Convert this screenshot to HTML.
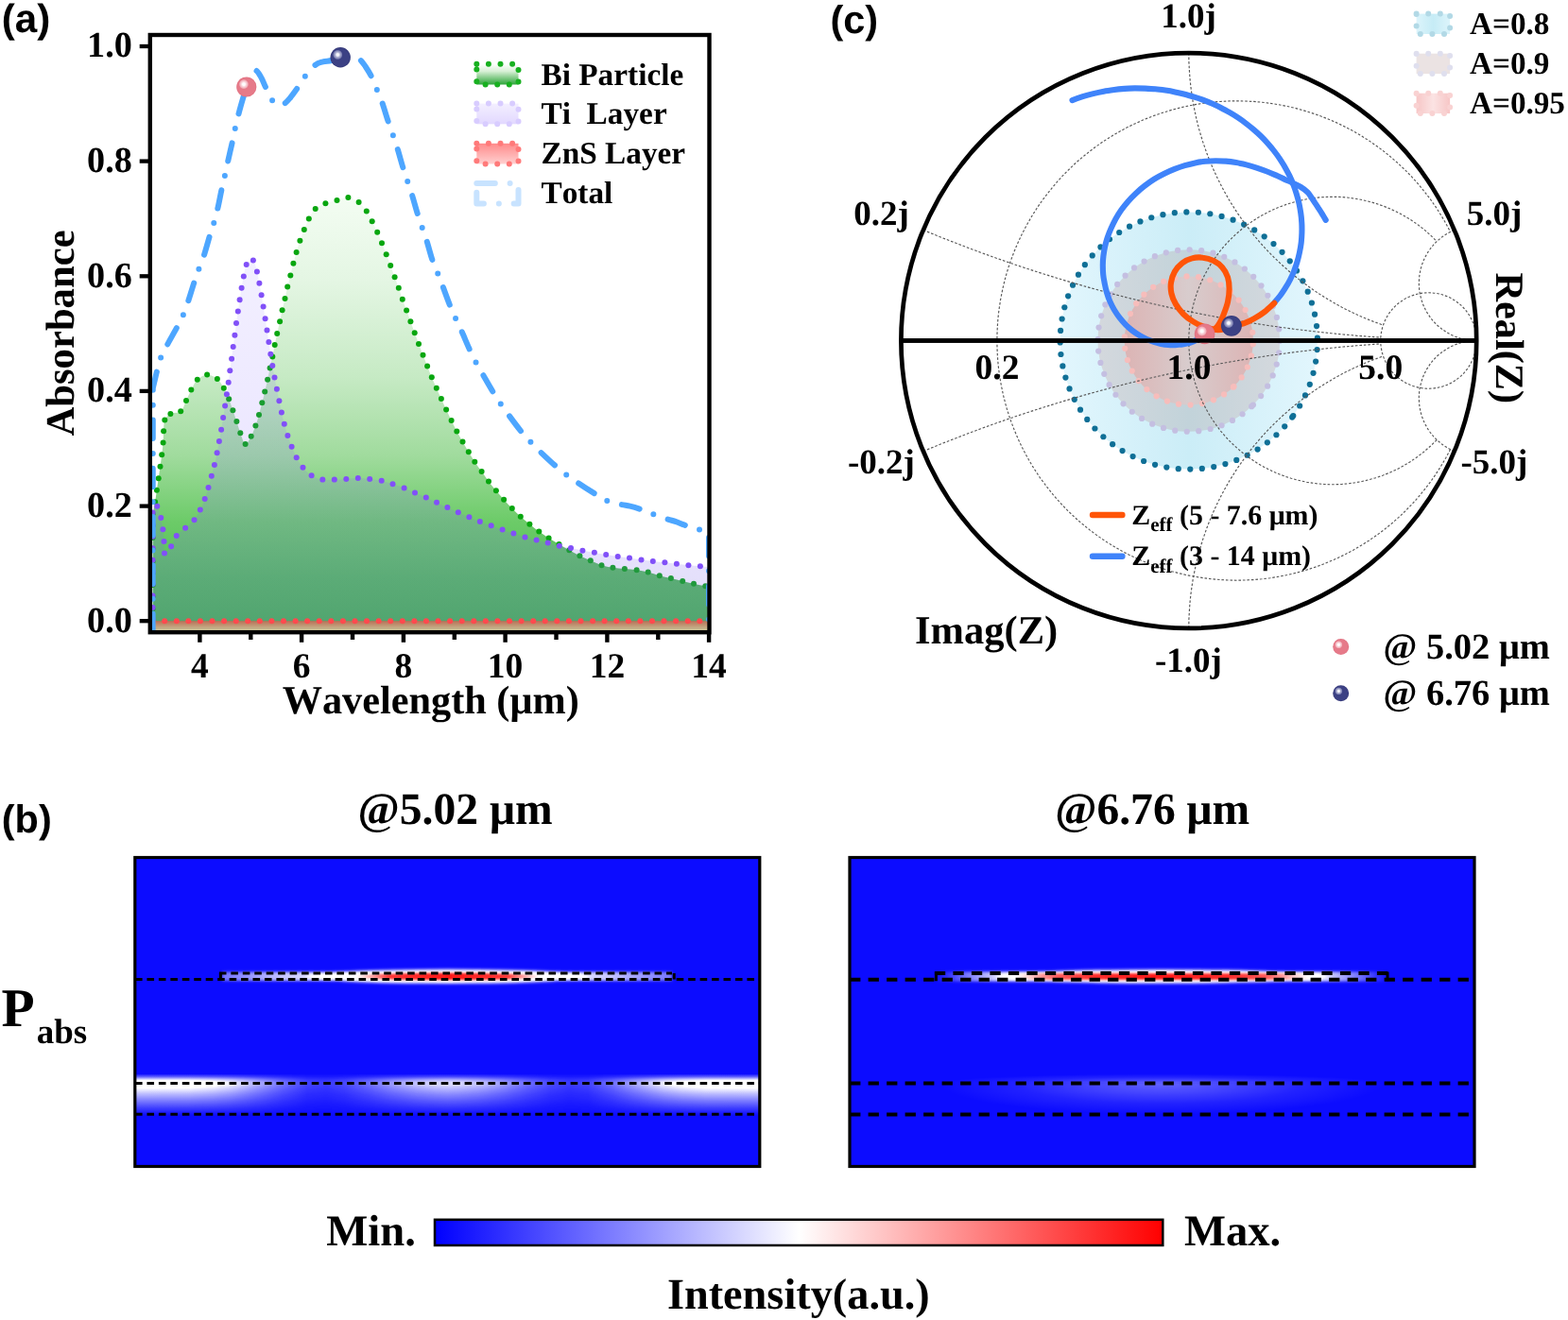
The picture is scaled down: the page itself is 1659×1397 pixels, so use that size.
<!DOCTYPE html>
<html lang="en"><head><meta charset="utf-8"><title>Figure</title>
<style>
html,body{margin:0;padding:0;background:#fff;}
body{width:1659px;height:1397px;overflow:hidden;}
svg{display:block;}
text{fill:#000;font-kerning:none;font-variant-ligatures:none;text-rendering:geometricPrecision;}
</style></head>
<body>
<svg width="1659" height="1397" viewBox="0 0 1659 1397">
<rect x="0" y="0" width="1659" height="1397" fill="#ffffff"/>
<defs>
<linearGradient id="gGreen" gradientUnits="userSpaceOnUse" x1="0" y1="205" x2="0" y2="668">
 <stop offset="0" stop-color="#f4fdf3"/>
 <stop offset="0.2" stop-color="#e4f6e3"/>
 <stop offset="0.42" stop-color="#c6eac4"/>
 <stop offset="0.6" stop-color="#a0db9d"/>
 <stop offset="0.75" stop-color="#6ccb68"/>
 <stop offset="0.88" stop-color="#52bd58"/>
 <stop offset="1" stop-color="#42b54c"/>
</linearGradient>
<linearGradient id="gPurple" gradientUnits="userSpaceOnUse" x1="0" y1="270" x2="0" y2="668">
 <stop offset="0" stop-color="#8264ff" stop-opacity="0.10"/>
 <stop offset="0.5" stop-color="#8264ff" stop-opacity="0.15"/>
 <stop offset="0.8" stop-color="#8068f0" stop-opacity="0.20"/>
 <stop offset="1" stop-color="#7c6ce0" stop-opacity="0.23"/>
</linearGradient>
<linearGradient id="gRed" gradientUnits="userSpaceOnUse" x1="0" y1="657" x2="0" y2="668">
 <stop offset="0" stop-color="#d2604e" stop-opacity="0.8"/>
 <stop offset="1" stop-color="#e8d2a8" stop-opacity="0.8"/>
</linearGradient>
<linearGradient id="lgGreen" x1="0" y1="0" x2="0" y2="1">
 <stop offset="0" stop-color="#ffffff"/><stop offset="0.35" stop-color="#d8f0d6"/><stop offset="1" stop-color="#2ea53a"/>
</linearGradient>
<linearGradient id="lgPurple" x1="0" y1="0" x2="0" y2="1">
 <stop offset="0" stop-color="#f3efff"/><stop offset="1" stop-color="#e2d8ff"/>
</linearGradient>
<linearGradient id="lgRed" x1="0" y1="0" x2="0" y2="1">
 <stop offset="0" stop-color="#ff8a8a"/><stop offset="1" stop-color="#ffd0d0"/>
</linearGradient>
<radialGradient id="hlP">
 <stop offset="0" stop-color="#ffffff" stop-opacity="1"/>
 <stop offset="0.28" stop-color="#ffffff" stop-opacity="0.96"/>
 <stop offset="0.5" stop-color="#fde6ea" stop-opacity="0.85"/>
 <stop offset="0.8" stop-color="#f6c6cd" stop-opacity="0.7"/>
 <stop offset="0.93" stop-color="#efa3ae" stop-opacity="0.45"/>
 <stop offset="1" stop-color="#e67a89" stop-opacity="0"/>
</radialGradient>
<radialGradient id="hlN">
 <stop offset="0" stop-color="#ffffff" stop-opacity="1"/>
 <stop offset="0.28" stop-color="#f4f4fa" stop-opacity="0.96"/>
 <stop offset="0.5" stop-color="#c2c4de" stop-opacity="0.85"/>
 <stop offset="0.8" stop-color="#9497c2" stop-opacity="0.75"/>
 <stop offset="0.93" stop-color="#6a6ea6" stop-opacity="0.5"/>
 <stop offset="1" stop-color="#3b4082" stop-opacity="0"/>
</radialGradient>
<radialGradient id="ballPink" cx="0.5" cy="0.5" r="0.5">
 <stop offset="0" stop-color="#e67a89"/><stop offset="0.85" stop-color="#e67a89"/><stop offset="1" stop-color="#e07080"/>
</radialGradient>
<radialGradient id="ballNavy" cx="0.5" cy="0.5" r="0.5">
 <stop offset="0" stop-color="#3c4184"/><stop offset="0.85" stop-color="#3c4184"/><stop offset="1" stop-color="#343878"/>
</radialGradient>
<linearGradient id="sm08" x1="0" y1="0" x2="1" y2="0">
 <stop offset="0" stop-color="#e2f6fd"/><stop offset="0.5" stop-color="#cbedf7"/><stop offset="1" stop-color="#e2f6fd"/>
</linearGradient>
<linearGradient id="sm09" x1="0" y1="0" x2="1" y2="0">
 <stop offset="0" stop-color="#d4d8dd"/><stop offset="0.5" stop-color="#c2d3da"/><stop offset="1" stop-color="#d4d8dd"/>
</linearGradient>
<linearGradient id="sm095" x1="0" y1="0" x2="1" y2="0">
 <stop offset="0" stop-color="#dcb4b4"/><stop offset="0.5" stop-color="#d8cccd"/><stop offset="1" stop-color="#dcb4b4"/>
</linearGradient>
<linearGradient id="ls08" x1="0" y1="0" x2="1" y2="0">
 <stop offset="0" stop-color="#dcf4fb"/><stop offset="0.5" stop-color="#c6ecf6"/><stop offset="1" stop-color="#dcf4fb"/>
</linearGradient>
<linearGradient id="ls095" x1="0" y1="0" x2="1" y2="0">
 <stop offset="0" stop-color="#f7c6c6"/><stop offset="0.5" stop-color="#fbe3e3"/><stop offset="1" stop-color="#f7c6c6"/>
</linearGradient>
<linearGradient id="cbar" x1="0" y1="0" x2="1" y2="0">
 <stop offset="0" stop-color="#0000ff"/><stop offset="0.5" stop-color="#ffffff"/><stop offset="1" stop-color="#ff0000"/>
</linearGradient>
<clipPath id="clipA"><rect x="159" y="37" width="591.5" height="632"/></clipPath>

</defs>
<g clip-path="url(#clipA)">
<path d="M161.6,669.0 L161.6,545.0 C162.0,542.7 163.4,535.7 164.1,531.3 C164.8,526.9 165.3,522.9 165.9,518.7 C166.5,514.5 167.1,510.4 167.7,506.2 C168.3,502.0 168.9,497.9 169.5,493.7 C170.1,489.5 170.7,485.4 171.2,481.2 C171.7,477.0 172.3,472.8 172.6,468.6 C172.9,464.5 172.8,460.3 173.1,456.3 C173.4,452.3 173.1,447.6 174.3,444.5 C175.5,441.4 177.6,439.4 180.4,437.9 C183.2,436.3 188.4,437.5 191.2,435.2 C194.0,432.9 195.2,427.8 197.0,424.0 C198.8,420.2 200.3,416.3 202.3,412.6 C204.3,408.9 206.0,404.5 208.8,401.8 C211.6,399.1 215.6,396.5 219.1,396.4 C222.6,396.2 226.9,398.5 229.9,400.9 C232.9,403.3 234.8,407.2 236.8,410.8 C238.9,414.4 240.6,418.3 242.2,422.2 C243.8,426.1 245.0,430.3 246.4,434.3 C247.8,438.3 249.1,442.1 250.4,446.1 C251.7,450.1 252.8,454.2 254.3,458.2 C255.8,462.2 257.7,469.4 259.6,470.0 C261.5,470.6 263.9,465.0 265.7,461.8 C267.5,458.6 269.0,454.4 270.4,450.6 C271.8,446.8 272.9,443.0 274.0,438.9 C275.1,434.8 276.3,430.3 277.3,426.2 C278.3,422.1 279.2,418.5 280.2,414.4 C281.2,410.3 282.2,405.9 283.1,401.8 C284.0,397.7 284.7,393.6 285.6,389.5 C286.5,385.4 287.5,381.5 288.3,377.4 C289.1,373.3 289.9,369.0 290.7,364.9 C291.5,360.8 292.3,357.1 293.2,353.0 C294.1,348.9 295.2,344.4 296.1,340.3 C297.0,336.2 297.7,332.3 298.6,328.2 C299.5,324.1 300.6,320.0 301.5,315.9 C302.4,311.8 303.2,307.7 304.2,303.6 C305.2,299.5 306.3,295.6 307.3,291.5 C308.3,287.4 309.3,282.9 310.4,278.8 C311.4,274.7 312.4,271.1 313.6,267.1 C314.8,263.1 316.0,258.8 317.4,254.8 C318.8,250.8 320.2,246.9 321.8,243.0 C323.4,239.1 324.8,235.1 326.8,231.4 C328.8,227.7 330.8,223.7 333.7,221.0 C336.6,218.3 340.6,216.7 344.4,215.2 C348.2,213.7 352.5,212.9 356.5,211.9 C360.5,210.9 364.5,208.7 368.4,209.0 C372.2,209.3 376.4,211.5 379.6,213.9 C382.8,216.3 385.5,220.1 387.8,223.5 C390.1,226.9 391.8,230.6 393.7,234.3 C395.6,238.0 397.5,241.9 399.2,245.7 C400.9,249.5 402.4,253.4 404.0,257.3 C405.6,261.2 407.2,265.2 408.7,269.2 C410.2,273.1 411.7,277.0 413.2,281.0 C414.7,285.0 416.2,289.4 417.6,293.3 C419.0,297.2 420.4,300.8 421.8,304.7 C423.2,308.6 424.4,312.8 425.8,316.8 C427.2,320.8 428.7,324.6 430.1,328.5 C431.5,332.4 433.0,336.3 434.4,340.3 C435.8,344.3 437.3,348.4 438.7,352.3 C440.1,356.2 441.5,360.1 443.0,364.0 C444.5,367.9 446.0,371.9 447.5,375.8 C449.0,379.7 450.6,383.6 452.1,387.5 C453.7,391.4 455.2,395.4 456.8,399.3 C458.4,403.2 460.1,406.9 461.8,410.7 C463.5,414.5 465.2,418.3 466.9,422.1 C468.6,425.9 470.3,429.8 472.1,433.6 C473.9,437.4 475.7,441.2 477.6,445.0 C479.5,448.8 481.3,452.9 483.3,456.6 C485.3,460.4 487.4,463.9 489.5,467.5 C491.6,471.1 493.7,474.8 495.8,478.3 C497.9,481.9 500.0,485.3 502.3,488.8 C504.6,492.3 507.2,495.7 509.6,499.1 C512.1,502.5 514.5,506.0 517.0,509.4 C519.5,512.8 522.2,516.0 524.9,519.2 C527.6,522.4 530.3,525.7 533.1,528.8 C535.9,531.9 538.8,535.0 541.8,538.0 C544.8,541.0 547.7,543.9 550.8,546.7 C553.9,549.5 557.1,552.1 560.4,554.8 C563.6,557.4 566.9,560.1 570.3,562.6 C573.7,565.1 577.1,567.3 580.6,569.5 C584.1,571.7 587.9,573.9 591.5,576.0 C595.1,578.1 598.6,580.2 602.3,582.3 C605.9,584.3 609.6,586.5 613.4,588.3 C617.1,590.1 620.9,591.6 624.8,593.3 C628.6,594.9 632.6,597.0 636.5,598.2 C640.4,599.5 644.3,600.2 648.4,600.8 C652.5,601.4 656.7,601.6 660.9,602.0 C665.1,602.4 669.5,602.7 673.6,603.3 C677.7,603.9 681.7,604.6 685.7,605.6 C689.7,606.6 693.8,608.2 697.8,609.3 C701.8,610.4 705.8,611.1 709.9,612.1 C714.0,613.1 718.2,614.0 722.2,615.0 C726.2,616.0 730.0,616.9 734.0,617.8 C738.0,618.7 743.6,619.8 746.3,620.3 C749.0,620.8 749.4,620.9 750.0,621.0 L750.0,669.0 Z" fill="url(#gGreen)" stroke="none"/>
<g fill="#08a60f"><circle cx="164.1" cy="531.3" r="3.00"/><circle cx="165.9" cy="518.7" r="3.00"/><circle cx="167.7" cy="506.2" r="3.00"/><circle cx="169.5" cy="493.7" r="3.00"/><circle cx="171.2" cy="481.2" r="3.00"/><circle cx="172.6" cy="468.6" r="3.00"/><circle cx="173.1" cy="456.3" r="3.00"/><circle cx="174.3" cy="444.5" r="3.00"/><circle cx="180.4" cy="437.9" r="3.00"/><circle cx="191.2" cy="435.2" r="3.00"/><circle cx="197.0" cy="424.0" r="3.00"/><circle cx="202.3" cy="412.6" r="3.00"/><circle cx="208.8" cy="401.8" r="3.00"/><circle cx="219.1" cy="396.4" r="3.00"/><circle cx="229.9" cy="400.9" r="3.00"/><circle cx="236.8" cy="410.8" r="3.00"/><circle cx="242.2" cy="422.2" r="3.00"/><circle cx="246.4" cy="434.3" r="3.00"/><circle cx="250.4" cy="446.1" r="3.00"/><circle cx="254.3" cy="458.2" r="3.00"/><circle cx="259.6" cy="470.0" r="3.00"/><circle cx="265.7" cy="461.8" r="3.00"/><circle cx="270.4" cy="450.6" r="3.00"/><circle cx="274.0" cy="438.9" r="3.00"/><circle cx="277.3" cy="426.2" r="3.00"/><circle cx="280.2" cy="414.4" r="3.00"/><circle cx="283.1" cy="401.8" r="3.00"/><circle cx="285.6" cy="389.5" r="3.00"/><circle cx="288.3" cy="377.4" r="3.00"/><circle cx="290.7" cy="364.9" r="3.00"/><circle cx="293.2" cy="353.0" r="3.00"/><circle cx="296.1" cy="340.3" r="3.00"/><circle cx="298.6" cy="328.2" r="3.00"/><circle cx="301.5" cy="315.9" r="3.00"/><circle cx="304.2" cy="303.6" r="3.00"/><circle cx="307.3" cy="291.5" r="3.00"/><circle cx="310.4" cy="278.8" r="3.00"/><circle cx="313.6" cy="267.1" r="3.00"/><circle cx="317.4" cy="254.8" r="3.00"/><circle cx="321.8" cy="243.0" r="3.00"/><circle cx="326.8" cy="231.4" r="3.00"/><circle cx="333.7" cy="221.0" r="3.00"/><circle cx="344.4" cy="215.2" r="3.00"/><circle cx="356.5" cy="211.9" r="3.00"/><circle cx="368.4" cy="209.0" r="3.00"/><circle cx="379.6" cy="213.9" r="3.00"/><circle cx="387.8" cy="223.5" r="3.00"/><circle cx="393.7" cy="234.3" r="3.00"/><circle cx="399.2" cy="245.7" r="3.00"/><circle cx="404.0" cy="257.3" r="3.00"/><circle cx="408.7" cy="269.2" r="3.00"/><circle cx="413.2" cy="281.0" r="3.00"/><circle cx="417.6" cy="293.3" r="3.00"/><circle cx="421.8" cy="304.7" r="3.00"/><circle cx="425.8" cy="316.8" r="3.00"/><circle cx="430.1" cy="328.5" r="3.00"/><circle cx="434.4" cy="340.3" r="3.00"/><circle cx="438.7" cy="352.3" r="3.00"/><circle cx="443.0" cy="364.0" r="3.00"/><circle cx="447.5" cy="375.8" r="3.00"/><circle cx="452.1" cy="387.5" r="3.00"/><circle cx="456.8" cy="399.3" r="3.00"/><circle cx="461.8" cy="410.7" r="3.00"/><circle cx="466.9" cy="422.1" r="3.00"/><circle cx="472.1" cy="433.6" r="3.00"/><circle cx="477.6" cy="445.0" r="3.00"/><circle cx="483.3" cy="456.6" r="3.00"/><circle cx="489.5" cy="467.5" r="3.00"/><circle cx="495.8" cy="478.3" r="3.00"/><circle cx="502.3" cy="488.8" r="3.00"/><circle cx="509.6" cy="499.1" r="3.00"/><circle cx="517.0" cy="509.4" r="3.00"/><circle cx="524.9" cy="519.2" r="3.00"/><circle cx="533.1" cy="528.8" r="3.00"/><circle cx="541.8" cy="538.0" r="3.00"/><circle cx="550.8" cy="546.7" r="3.00"/><circle cx="560.4" cy="554.8" r="3.00"/><circle cx="570.3" cy="562.6" r="3.00"/><circle cx="580.6" cy="569.5" r="3.00"/><circle cx="591.5" cy="576.0" r="3.00"/><circle cx="602.3" cy="582.3" r="3.00"/><circle cx="613.4" cy="588.3" r="3.00"/><circle cx="624.8" cy="593.3" r="3.00"/><circle cx="636.5" cy="598.2" r="3.00"/><circle cx="648.4" cy="600.8" r="3.00"/><circle cx="660.9" cy="602.0" r="3.00"/><circle cx="673.6" cy="603.3" r="3.00"/><circle cx="685.7" cy="605.6" r="3.00"/><circle cx="697.8" cy="609.3" r="3.00"/><circle cx="709.9" cy="612.1" r="3.00"/><circle cx="722.2" cy="615.0" r="3.00"/><circle cx="734.0" cy="617.8" r="3.00"/><circle cx="746.3" cy="620.3" r="3.00"/><circle cx="749.5" cy="620.9" r="3.00"/><circle cx="161.6" cy="543.8" r="3.00"/><circle cx="161.6" cy="556.3" r="3.00"/><circle cx="161.6" cy="568.9" r="3.00"/><circle cx="161.6" cy="581.4" r="3.00"/><circle cx="161.6" cy="594.0" r="3.00"/><circle cx="161.6" cy="606.5" r="3.00"/><circle cx="161.6" cy="619.1" r="3.00"/><circle cx="161.6" cy="631.6" r="3.00"/><circle cx="161.6" cy="644.2" r="3.00"/><circle cx="161.6" cy="656.7" r="3.00"/><circle cx="161.6" cy="669.3" r="3.00"/></g>
<path d="M161.6,669.0 L161.6,535.0 C162.4,535.1 164.9,533.6 166.3,535.8 C167.8,538.0 169.3,544.0 170.3,548.1 C171.3,552.2 171.9,556.2 172.4,560.3 C172.9,564.4 173.2,568.7 173.5,572.9 C173.8,577.1 172.7,584.7 174.0,585.6 C175.3,586.5 179.0,581.4 181.1,578.3 C183.2,575.2 184.2,570.1 186.7,566.9 C189.2,563.6 193.0,561.6 196.1,558.8 C199.2,556.0 202.9,553.5 205.5,550.3 C208.1,547.1 209.9,543.3 211.8,539.6 C213.7,535.9 215.2,532.0 216.7,528.1 C218.1,524.2 219.3,520.1 220.5,516.1 C221.7,512.1 222.7,507.8 223.8,503.8 C224.9,499.8 225.9,496.0 226.9,491.9 C227.9,487.8 228.8,483.3 229.6,479.2 C230.4,475.1 231.2,471.2 231.9,467.1 C232.7,463.0 233.4,459.0 234.1,454.8 C234.8,450.6 235.4,446.1 236.1,441.9 C236.8,437.7 237.5,433.6 238.1,429.5 C238.7,425.4 239.3,421.3 239.9,417.2 C240.5,413.1 241.1,408.9 241.7,404.7 C242.3,400.5 242.7,396.4 243.3,392.2 C243.9,388.0 244.5,383.9 245.1,379.7 C245.7,375.5 246.1,371.2 246.7,367.1 C247.2,363.0 247.8,359.0 248.4,354.8 C249.0,350.6 249.4,346.3 250.0,342.1 C250.6,337.9 251.2,333.7 251.8,329.6 C252.4,325.5 253.0,321.5 253.6,317.3 C254.2,313.1 254.9,308.8 255.6,304.7 C256.3,300.6 256.9,296.7 257.8,292.6 C258.7,288.5 259.0,283.0 260.7,280.1 C262.4,277.2 266.0,274.2 267.9,275.4 C269.8,276.6 270.8,283.4 271.9,287.5 C273.0,291.6 273.6,295.7 274.4,299.8 C275.2,303.9 275.9,308.2 276.6,312.3 C277.3,316.4 277.9,320.5 278.6,324.6 C279.3,328.8 280.0,333.1 280.6,337.2 C281.2,341.3 281.9,345.4 282.5,349.5 C283.1,353.6 283.8,357.8 284.4,362.0 C285.0,366.2 285.6,370.5 286.3,374.7 C287.0,378.9 287.6,382.9 288.3,387.0 C289.0,391.1 289.7,395.3 290.5,399.4 C291.3,403.5 292.1,407.6 292.9,411.7 C293.7,415.8 294.6,420.1 295.4,424.2 C296.2,428.3 297.0,432.4 297.9,436.5 C298.8,440.6 299.7,444.7 300.8,448.8 C301.9,452.9 303.1,457.0 304.4,461.0 C305.7,465.0 307.1,468.9 308.6,472.8 C310.2,476.7 311.7,480.6 313.7,484.3 C315.7,488.0 317.9,491.6 320.5,494.8 C323.1,498.0 326.1,501.2 329.6,503.3 C333.1,505.4 337.3,506.9 341.3,507.6 C345.3,508.3 349.6,507.7 353.8,507.6 C358.0,507.5 362.1,507.2 366.3,506.9 C370.5,506.6 374.7,506.0 378.8,506.0 C382.9,506.0 387.1,506.4 391.2,506.9 C395.3,507.3 399.6,507.8 403.7,508.7 C407.8,509.6 411.5,511.0 415.5,512.3 C419.5,513.6 423.7,515.0 427.6,516.5 C431.5,518.0 435.1,519.9 439.0,521.5 C442.9,523.1 447.0,524.7 450.8,526.4 C454.6,528.1 458.2,529.9 462.0,531.7 C465.8,533.5 469.6,535.4 473.4,537.1 C477.2,538.9 481.0,540.5 484.8,542.2 C488.6,543.9 492.6,545.6 496.4,547.2 C500.2,548.8 503.9,550.4 507.8,551.9 C511.7,553.4 515.7,554.9 519.7,556.3 C523.7,557.7 527.7,559.0 531.6,560.4 C535.5,561.8 539.4,563.3 543.4,564.6 C547.4,565.9 551.5,567.2 555.5,568.4 C559.5,569.5 563.6,570.5 567.6,571.5 C571.6,572.5 575.7,573.5 579.7,574.5 C583.7,575.5 587.8,576.9 591.8,577.8 C595.8,578.7 599.9,579.3 604.0,580.1 C608.1,580.9 612.2,581.9 616.4,582.7 C620.5,583.5 624.8,584.0 628.9,584.7 C633.0,585.4 637.1,586.3 641.2,587.0 C645.3,587.7 649.6,588.4 653.7,589.0 C657.8,589.6 661.9,590.0 666.0,590.6 C670.1,591.2 674.4,591.9 678.5,592.4 C682.6,592.9 686.6,593.4 690.8,593.9 C694.9,594.4 699.2,594.7 703.4,595.2 C707.6,595.7 711.7,596.3 715.9,596.8 C720.1,597.3 724.2,597.8 728.4,598.2 C732.6,598.6 737.3,598.9 740.9,599.2 C744.5,599.5 748.5,600.0 750.0,600.2 L750.0,669.0 Z" fill="url(#gPurple)" stroke="none"/>
<g fill="#8150f8"><circle cx="166.3" cy="535.8" r="3.00"/><circle cx="170.3" cy="548.1" r="3.00"/><circle cx="172.4" cy="560.3" r="3.00"/><circle cx="173.5" cy="572.9" r="3.00"/><circle cx="174.0" cy="585.6" r="3.00"/><circle cx="181.1" cy="578.3" r="3.00"/><circle cx="186.7" cy="566.9" r="3.00"/><circle cx="196.1" cy="558.8" r="3.00"/><circle cx="205.5" cy="550.3" r="3.00"/><circle cx="211.8" cy="539.6" r="3.00"/><circle cx="216.7" cy="528.1" r="3.00"/><circle cx="220.5" cy="516.1" r="3.00"/><circle cx="223.8" cy="503.8" r="3.00"/><circle cx="226.9" cy="491.9" r="3.00"/><circle cx="229.6" cy="479.2" r="3.00"/><circle cx="231.9" cy="467.1" r="3.00"/><circle cx="234.1" cy="454.8" r="3.00"/><circle cx="236.1" cy="441.9" r="3.00"/><circle cx="238.1" cy="429.5" r="3.00"/><circle cx="239.9" cy="417.2" r="3.00"/><circle cx="241.7" cy="404.7" r="3.00"/><circle cx="243.3" cy="392.2" r="3.00"/><circle cx="245.1" cy="379.7" r="3.00"/><circle cx="246.7" cy="367.1" r="3.00"/><circle cx="248.4" cy="354.8" r="3.00"/><circle cx="250.0" cy="342.1" r="3.00"/><circle cx="251.8" cy="329.6" r="3.00"/><circle cx="253.6" cy="317.3" r="3.00"/><circle cx="255.6" cy="304.7" r="3.00"/><circle cx="257.8" cy="292.6" r="3.00"/><circle cx="260.7" cy="280.1" r="3.00"/><circle cx="267.9" cy="275.4" r="3.00"/><circle cx="271.9" cy="287.5" r="3.00"/><circle cx="274.4" cy="299.8" r="3.00"/><circle cx="276.6" cy="312.3" r="3.00"/><circle cx="278.6" cy="324.6" r="3.00"/><circle cx="280.6" cy="337.2" r="3.00"/><circle cx="282.5" cy="349.5" r="3.00"/><circle cx="284.4" cy="362.0" r="3.00"/><circle cx="286.3" cy="374.7" r="3.00"/><circle cx="288.3" cy="387.0" r="3.00"/><circle cx="290.5" cy="399.4" r="3.00"/><circle cx="292.9" cy="411.7" r="3.00"/><circle cx="295.4" cy="424.2" r="3.00"/><circle cx="297.9" cy="436.5" r="3.00"/><circle cx="300.8" cy="448.8" r="3.00"/><circle cx="304.4" cy="461.0" r="3.00"/><circle cx="308.6" cy="472.8" r="3.00"/><circle cx="313.7" cy="484.3" r="3.00"/><circle cx="320.5" cy="494.8" r="3.00"/><circle cx="329.6" cy="503.3" r="3.00"/><circle cx="341.3" cy="507.6" r="3.00"/><circle cx="353.8" cy="507.6" r="3.00"/><circle cx="366.3" cy="506.9" r="3.00"/><circle cx="378.8" cy="506.0" r="3.00"/><circle cx="391.2" cy="506.9" r="3.00"/><circle cx="403.7" cy="508.7" r="3.00"/><circle cx="415.5" cy="512.3" r="3.00"/><circle cx="427.6" cy="516.5" r="3.00"/><circle cx="439.0" cy="521.5" r="3.00"/><circle cx="450.8" cy="526.4" r="3.00"/><circle cx="462.0" cy="531.7" r="3.00"/><circle cx="473.4" cy="537.1" r="3.00"/><circle cx="484.8" cy="542.2" r="3.00"/><circle cx="496.4" cy="547.2" r="3.00"/><circle cx="507.8" cy="551.9" r="3.00"/><circle cx="519.7" cy="556.3" r="3.00"/><circle cx="531.6" cy="560.4" r="3.00"/><circle cx="543.4" cy="564.6" r="3.00"/><circle cx="555.5" cy="568.4" r="3.00"/><circle cx="567.6" cy="571.5" r="3.00"/><circle cx="579.7" cy="574.5" r="3.00"/><circle cx="591.8" cy="577.8" r="3.00"/><circle cx="604.0" cy="580.1" r="3.00"/><circle cx="616.4" cy="582.7" r="3.00"/><circle cx="628.9" cy="584.7" r="3.00"/><circle cx="641.2" cy="587.0" r="3.00"/><circle cx="653.7" cy="589.0" r="3.00"/><circle cx="666.0" cy="590.6" r="3.00"/><circle cx="678.5" cy="592.4" r="3.00"/><circle cx="690.8" cy="593.9" r="3.00"/><circle cx="703.4" cy="595.2" r="3.00"/><circle cx="715.9" cy="596.8" r="3.00"/><circle cx="728.4" cy="598.2" r="3.00"/><circle cx="740.9" cy="599.2" r="3.00"/><circle cx="161.6" cy="542.6" r="3.00"/><circle cx="161.6" cy="555.1" r="3.00"/><circle cx="161.6" cy="567.7" r="3.00"/><circle cx="161.6" cy="580.2" r="3.00"/><circle cx="161.6" cy="592.8" r="3.00"/><circle cx="161.6" cy="605.3" r="3.00"/><circle cx="161.6" cy="617.9" r="3.00"/><circle cx="161.6" cy="630.4" r="3.00"/><circle cx="161.6" cy="643.0" r="3.00"/><circle cx="161.6" cy="655.5" r="3.00"/><circle cx="161.6" cy="668.1" r="3.00"/></g>
<rect x="161.6" y="657.2" width="588.4" height="12" fill="url(#gRed)"/>
<g fill="#ff4a4e"><circle cx="161.6" cy="657.2" r="3.00"/><circle cx="174.2" cy="657.2" r="3.00"/><circle cx="186.8" cy="657.2" r="3.00"/><circle cx="199.3" cy="657.2" r="3.00"/><circle cx="211.9" cy="657.2" r="3.00"/><circle cx="224.5" cy="657.2" r="3.00"/><circle cx="237.1" cy="657.2" r="3.00"/><circle cx="249.7" cy="657.2" r="3.00"/><circle cx="262.2" cy="657.2" r="3.00"/><circle cx="274.8" cy="657.2" r="3.00"/><circle cx="287.4" cy="657.2" r="3.00"/><circle cx="300.0" cy="657.2" r="3.00"/><circle cx="312.6" cy="657.2" r="3.00"/><circle cx="325.1" cy="657.2" r="3.00"/><circle cx="337.7" cy="657.2" r="3.00"/><circle cx="350.3" cy="657.2" r="3.00"/><circle cx="362.9" cy="657.2" r="3.00"/><circle cx="375.5" cy="657.2" r="3.00"/><circle cx="388.0" cy="657.2" r="3.00"/><circle cx="400.6" cy="657.2" r="3.00"/><circle cx="413.2" cy="657.2" r="3.00"/><circle cx="425.8" cy="657.2" r="3.00"/><circle cx="438.4" cy="657.2" r="3.00"/><circle cx="450.9" cy="657.2" r="3.00"/><circle cx="463.5" cy="657.2" r="3.00"/><circle cx="476.1" cy="657.2" r="3.00"/><circle cx="488.7" cy="657.2" r="3.00"/><circle cx="501.3" cy="657.2" r="3.00"/><circle cx="513.8" cy="657.2" r="3.00"/><circle cx="526.4" cy="657.2" r="3.00"/><circle cx="539.0" cy="657.2" r="3.00"/><circle cx="551.6" cy="657.2" r="3.00"/><circle cx="564.2" cy="657.2" r="3.00"/><circle cx="576.7" cy="657.2" r="3.00"/><circle cx="589.3" cy="657.2" r="3.00"/><circle cx="601.9" cy="657.2" r="3.00"/><circle cx="614.5" cy="657.2" r="3.00"/><circle cx="627.1" cy="657.2" r="3.00"/><circle cx="639.6" cy="657.2" r="3.00"/><circle cx="652.2" cy="657.2" r="3.00"/><circle cx="664.8" cy="657.2" r="3.00"/><circle cx="677.4" cy="657.2" r="3.00"/><circle cx="690.0" cy="657.2" r="3.00"/><circle cx="702.5" cy="657.2" r="3.00"/><circle cx="715.1" cy="657.2" r="3.00"/><circle cx="727.7" cy="657.2" r="3.00"/><circle cx="740.3" cy="657.2" r="3.00"/><circle cx="752.9" cy="657.2" r="3.00"/></g>
<path d="M161.6,669.0 L161.8,410.8 C162.6,407.6 164.9,397.3 166.3,391.8 C167.7,386.3 168.6,382.4 170.4,377.9 C172.2,373.4 174.3,369.9 177.1,364.7 C179.9,359.5 184.3,351.9 187.1,346.6 C189.9,341.3 191.9,337.8 193.9,333.1 C195.9,328.4 197.3,324.2 199.2,318.6 C201.1,313.0 203.3,305.3 205.2,299.6 C207.1,293.9 208.6,289.6 210.4,284.6 C212.2,279.6 214.1,275.6 216.0,269.8 C217.9,264.0 220.1,255.6 221.8,249.9 C223.5,244.2 224.9,240.8 226.3,235.8 C227.8,230.8 229.1,225.9 230.5,219.9 C231.9,213.9 233.3,205.7 234.6,200.0 C235.8,194.3 236.9,190.5 238.0,185.5 C239.1,180.5 240.0,176.0 241.3,170.1 C242.6,164.2 244.5,156.1 245.8,150.3 C247.1,144.5 247.8,140.4 248.9,135.4 C250.0,130.4 251.1,125.9 252.5,120.4 C253.9,114.9 256.2,107.0 257.6,102.3 C259.0,97.6 259.6,95.6 260.8,92.0 C262.0,88.4 263.3,83.4 265.0,80.5 C266.7,77.6 268.9,74.4 270.8,74.7 C272.7,75.0 274.9,79.5 276.6,82.4 C278.3,85.4 279.2,88.4 281.1,92.4 C283.0,96.4 285.9,103.2 288.2,106.3 C290.5,109.4 292.6,110.5 294.7,111.0 C296.8,111.5 298.9,110.9 301.0,109.6 C303.1,108.3 305.0,105.9 307.3,103.2 C309.6,100.5 312.0,97.0 314.6,93.3 C317.2,89.6 319.6,85.1 322.7,81.0 C325.8,76.9 330.3,71.5 333.5,68.9 C336.7,66.3 338.8,66.1 341.7,65.3 C344.6,64.5 347.6,64.8 350.7,64.0 C353.8,63.2 356.6,61.5 360.1,60.7 C363.7,60.0 368.6,59.1 372.0,59.5 C375.4,59.9 378.1,61.0 380.6,62.9 C383.1,64.8 384.9,67.9 386.9,70.7 C388.8,73.5 390.4,75.9 392.3,79.7 C394.2,83.5 396.3,89.0 398.3,93.7 C400.3,98.4 402.1,102.2 404.1,107.8 C406.1,113.4 408.5,121.9 410.4,127.6 C412.3,133.3 413.9,137.3 415.5,142.1 C417.1,146.9 418.5,150.9 420.3,156.6 C422.1,162.3 424.4,170.8 426.1,176.5 C427.9,182.2 429.2,186.1 430.8,190.9 C432.4,195.7 433.9,199.7 435.7,205.4 C437.5,211.1 439.7,219.6 441.5,225.3 C443.3,231.0 444.7,235.0 446.3,239.8 C447.9,244.6 449.5,248.5 451.3,254.2 C453.1,259.9 455.2,268.4 457.1,274.1 C459.0,279.8 461.0,283.8 462.9,288.6 C464.8,293.4 466.4,297.5 468.5,303.1 C470.6,308.7 473.4,316.6 475.6,322.1 C477.8,327.6 479.6,331.6 481.7,336.3 C483.8,341.0 485.7,344.6 488.2,350.1 C490.7,355.6 494.0,363.6 496.5,369.1 C499.0,374.6 500.8,378.5 503.2,383.0 C505.6,387.5 507.8,391.0 510.8,396.2 C513.8,401.4 518.2,409.2 521.3,414.3 C524.4,419.4 526.4,422.7 529.3,426.9 C532.2,431.1 534.9,434.7 538.5,439.6 C542.1,444.5 547.4,451.7 551.2,456.3 C555.0,460.9 557.6,463.8 561.1,467.5 C564.6,471.2 567.7,474.4 572.0,478.5 C576.3,482.6 582.5,488.5 587.0,492.4 C591.5,496.3 594.6,498.9 598.7,502.0 C602.8,505.1 606.5,507.6 611.4,510.9 C616.3,514.2 623.4,518.8 628.4,521.9 C633.4,525.0 637.0,527.7 641.6,529.7 C646.2,531.7 651.9,532.7 656.0,533.7 C660.1,534.7 663.0,534.8 666.5,535.6 C670.0,536.4 672.8,537.2 676.8,538.6 C680.8,540.0 685.7,542.3 690.4,544.0 C695.1,545.7 700.8,547.6 704.9,549.0 C709.0,550.4 712.0,551.0 715.2,552.1 C718.5,553.2 720.4,554.4 724.4,555.7 C728.4,557.1 734.9,558.9 739.2,560.2 C743.5,561.5 748.2,563.0 750.0,563.5 L750.0,669.0" stroke="#4da6ff" stroke-width="6" stroke-linecap="round" stroke-dasharray="19.5 15.8 0 15.95" fill="none"/>
</g>
<rect x="158.8" y="37" width="591.7" height="632.2" fill="none" stroke="#000" stroke-width="4.4"/>
<line x1="147.7" y1="657.2" x2="157" y2="657.2" stroke="#000" stroke-width="4.3"/>
<text x="139.8" y="668.6" font-size="38.2" text-anchor="end" font-family="Liberation Serif, serif" font-weight="bold">0.0</text>
<line x1="147.7" y1="535.6" x2="157" y2="535.6" stroke="#000" stroke-width="4.3"/>
<text x="139.8" y="547.0" font-size="38.2" text-anchor="end" font-family="Liberation Serif, serif" font-weight="bold">0.2</text>
<line x1="147.7" y1="413.9" x2="157" y2="413.9" stroke="#000" stroke-width="4.3"/>
<text x="139.8" y="425.3" font-size="38.2" text-anchor="end" font-family="Liberation Serif, serif" font-weight="bold">0.4</text>
<line x1="147.7" y1="292.3" x2="157" y2="292.3" stroke="#000" stroke-width="4.3"/>
<text x="139.8" y="303.7" font-size="38.2" text-anchor="end" font-family="Liberation Serif, serif" font-weight="bold">0.6</text>
<line x1="147.7" y1="170.6" x2="157" y2="170.6" stroke="#000" stroke-width="4.3"/>
<text x="139.8" y="182.0" font-size="38.2" text-anchor="end" font-family="Liberation Serif, serif" font-weight="bold">0.8</text>
<line x1="147.7" y1="49.0" x2="157" y2="49.0" stroke="#000" stroke-width="4.3"/>
<text x="139.8" y="60.4" font-size="38.2" text-anchor="end" font-family="Liberation Serif, serif" font-weight="bold">1.0</text>
<line x1="211.4" y1="671" x2="211.4" y2="679.8" stroke="#000" stroke-width="4.4"/>
<text x="211.4" y="717.2" font-size="37.5" text-anchor="middle" font-family="Liberation Serif, serif" font-weight="bold">4</text>
<line x1="265.3" y1="671" x2="265.3" y2="677" stroke="#000" stroke-width="4.4"/>
<line x1="319.1" y1="671" x2="319.1" y2="679.8" stroke="#000" stroke-width="4.4"/>
<text x="319.1" y="717.2" font-size="37.5" text-anchor="middle" font-family="Liberation Serif, serif" font-weight="bold">6</text>
<line x1="373.0" y1="671" x2="373.0" y2="677" stroke="#000" stroke-width="4.4"/>
<line x1="426.9" y1="671" x2="426.9" y2="679.8" stroke="#000" stroke-width="4.4"/>
<text x="426.9" y="717.2" font-size="37.5" text-anchor="middle" font-family="Liberation Serif, serif" font-weight="bold">8</text>
<line x1="480.8" y1="671" x2="480.8" y2="677" stroke="#000" stroke-width="4.4"/>
<line x1="534.6" y1="671" x2="534.6" y2="679.8" stroke="#000" stroke-width="4.4"/>
<text x="534.6" y="717.2" font-size="37.5" text-anchor="middle" font-family="Liberation Serif, serif" font-weight="bold">10</text>
<line x1="588.5" y1="671" x2="588.5" y2="677" stroke="#000" stroke-width="4.4"/>
<line x1="642.4" y1="671" x2="642.4" y2="679.8" stroke="#000" stroke-width="4.4"/>
<text x="642.4" y="717.2" font-size="37.5" text-anchor="middle" font-family="Liberation Serif, serif" font-weight="bold">12</text>
<line x1="696.3" y1="671" x2="696.3" y2="677" stroke="#000" stroke-width="4.4"/>
<line x1="750.1" y1="671" x2="750.1" y2="679.8" stroke="#000" stroke-width="4.4"/>
<text x="750.1" y="717.2" font-size="37.5" text-anchor="middle" font-family="Liberation Serif, serif" font-weight="bold">14</text>
<text x="455.7" y="754.8" font-size="42.3" text-anchor="middle" font-family="Liberation Serif, serif" font-weight="bold">Wavelength (μm)</text>
<text transform="translate(78.2,352.5) rotate(-90)" font-size="42.7" text-anchor="middle" font-family="Liberation Serif, serif" font-weight="bold">Absorbance</text>
<text x="1.8" y="34.0" font-size="42.2" font-family="Liberation Sans, sans-serif" font-weight="bold">(a)</text>
<circle cx="260.8" cy="92" r="10.6" fill="url(#ballPink)"/><circle cx="257.94" cy="89.14" r="5.30" fill="url(#hlP)"/>
<circle cx="360.2" cy="60.8" r="10.7" fill="url(#ballNavy)"/><circle cx="357.31" cy="57.91" r="5.35" fill="url(#hlN)"/>
<g opacity="1"><rect x="504.3" y="67.8" width="44.2" height="21.7" fill="url(#lgGreen)"/><path d="M504.3,67.8 h44.2 v21.7 h-44.2 Z" stroke="#18b020" stroke-width="6" stroke-linecap="round" stroke-linejoin="round" stroke-dasharray="0 12.6" fill="none"/></g>
<g opacity="1"><rect x="504.3" y="109.6" width="44.2" height="21.7" fill="url(#lgPurple)"/><path d="M504.3,109.6 h44.2 v21.7 h-44.2 Z" stroke="#d8ccff" stroke-width="6" stroke-linecap="round" stroke-linejoin="round" stroke-dasharray="0 12.6" fill="none"/></g>
<g opacity="1"><rect x="504.3" y="151.8" width="44.2" height="21.7" fill="url(#lgRed)"/><path d="M504.3,151.8 h44.2 v21.7 h-44.2 Z" stroke="#ff7a7a" stroke-width="6" stroke-linecap="round" stroke-linejoin="round" stroke-dasharray="0 12.6" fill="none"/></g>
<g opacity="1"><rect x="504.3" y="193.9" width="44.2" height="21.7" fill="none"/><path d="M504.3,193.9 h44.2 v21.7 h-44.2 Z" stroke="#c8e3ff" stroke-width="6" stroke-linecap="round" stroke-linejoin="round" stroke-dasharray="19.5 15.8 0 15.95" fill="none"/></g>
<text x="572.5" y="89.5" font-size="33.3" xml:space="preserve" font-family="Liberation Serif, serif" font-weight="bold">Bi Particle</text>
<text x="572.5" y="131.4" font-size="33.3" xml:space="preserve" font-family="Liberation Serif, serif" font-weight="bold">Ti  Layer</text>
<text x="572.5" y="173.3" font-size="33.3" xml:space="preserve" font-family="Liberation Serif, serif" font-weight="bold">ZnS Layer</text>
<text x="572.5" y="215.1" font-size="33.3" xml:space="preserve" font-family="Liberation Serif, serif" font-weight="bold">Total</text>
<circle cx="1257.8" cy="360.5" r="136.1" fill="url(#sm08)"/>
<circle cx="1257.8" cy="360.5" r="96.3" fill="url(#sm09)"/>
<circle cx="1257.8" cy="360.5" r="68.1" fill="url(#sm095)"/>
<g fill="#f7bdbb"><circle cx="1304.87" cy="409.67" r="3.10"/><circle cx="1295.06" cy="417.46" r="3.10"/><circle cx="1283.98" cy="423.33" r="3.10"/><circle cx="1272.02" cy="427.06" r="3.10"/><circle cx="1259.57" cy="428.54" r="3.10"/><circle cx="1247.07" cy="427.71" r="3.10"/><circle cx="1234.93" cy="424.61" r="3.10"/><circle cx="1223.56" cy="419.33" r="3.10"/><circle cx="1213.36" cy="412.05" r="3.10"/><circle cx="1204.66" cy="403.03" r="3.10"/><circle cx="1197.76" cy="392.57" r="3.10"/><circle cx="1192.90" cy="381.02" r="3.10"/><circle cx="1190.24" cy="368.77" r="3.10"/><circle cx="1189.87" cy="356.24" r="3.10"/><circle cx="1191.80" cy="343.86" r="3.10"/><circle cx="1195.97" cy="332.04" r="3.10"/><circle cx="1202.23" cy="321.19" r="3.10"/><circle cx="1210.38" cy="311.67" r="3.10"/><circle cx="1220.14" cy="303.80" r="3.10"/><circle cx="1231.17" cy="297.86" r="3.10"/><circle cx="1243.11" cy="294.04" r="3.10"/><circle cx="1255.54" cy="292.47" r="3.10"/><circle cx="1268.05" cy="293.21" r="3.10"/><circle cx="1280.21" cy="296.23" r="3.10"/><circle cx="1291.62" cy="301.43" r="3.10"/><circle cx="1301.87" cy="308.63" r="3.10"/><circle cx="1310.64" cy="317.59" r="3.10"/><circle cx="1317.61" cy="328.00" r="3.10"/><circle cx="1322.55" cy="339.52" r="3.10"/><circle cx="1325.30" cy="351.75" r="3.10"/><circle cx="1325.76" cy="364.27" r="3.10"/><circle cx="1323.92" cy="376.67" r="3.10"/><circle cx="1319.83" cy="388.51" r="3.10"/><circle cx="1313.65" cy="399.41" r="3.10"/><circle cx="1305.56" cy="408.99" r="3.10"/></g>
<g fill="#c4bfe1"><circle cx="1324.18" cy="430.21" r="3.10"/><circle cx="1314.56" cy="438.25" r="3.10"/><circle cx="1303.97" cy="444.97" r="3.10"/><circle cx="1292.59" cy="450.25" r="3.10"/><circle cx="1280.63" cy="454.01" r="3.10"/><circle cx="1268.28" cy="456.19" r="3.10"/><circle cx="1255.75" cy="456.74" r="3.10"/><circle cx="1243.26" cy="455.65" r="3.10"/><circle cx="1231.01" cy="452.96" r="3.10"/><circle cx="1219.22" cy="448.69" r="3.10"/><circle cx="1208.08" cy="442.92" r="3.10"/><circle cx="1197.78" cy="435.76" r="3.10"/><circle cx="1188.51" cy="427.32" r="3.10"/><circle cx="1180.41" cy="417.74" r="3.10"/><circle cx="1173.63" cy="407.20" r="3.10"/><circle cx="1168.27" cy="395.86" r="3.10"/><circle cx="1164.43" cy="383.92" r="3.10"/><circle cx="1162.18" cy="371.58" r="3.10"/><circle cx="1161.55" cy="359.05" r="3.10"/><circle cx="1162.56" cy="346.55" r="3.10"/><circle cx="1165.18" cy="334.29" r="3.10"/><circle cx="1169.37" cy="322.47" r="3.10"/><circle cx="1175.07" cy="311.30" r="3.10"/><circle cx="1182.16" cy="300.96" r="3.10"/><circle cx="1190.55" cy="291.63" r="3.10"/><circle cx="1200.07" cy="283.47" r="3.10"/><circle cx="1210.58" cy="276.62" r="3.10"/><circle cx="1221.88" cy="271.19" r="3.10"/><circle cx="1233.80" cy="267.28" r="3.10"/><circle cx="1246.12" cy="264.95" r="3.10"/><circle cx="1258.64" cy="264.24" r="3.10"/><circle cx="1271.15" cy="265.17" r="3.10"/><circle cx="1283.43" cy="267.71" r="3.10"/><circle cx="1295.27" cy="271.83" r="3.10"/><circle cx="1306.48" cy="277.46" r="3.10"/><circle cx="1316.87" cy="284.49" r="3.10"/><circle cx="1326.25" cy="292.82" r="3.10"/><circle cx="1334.46" cy="302.29" r="3.10"/><circle cx="1341.38" cy="312.75" r="3.10"/><circle cx="1346.88" cy="324.02" r="3.10"/><circle cx="1350.87" cy="335.91" r="3.10"/><circle cx="1353.27" cy="348.22" r="3.10"/><circle cx="1354.06" cy="360.74" r="3.10"/><circle cx="1353.21" cy="373.25" r="3.10"/><circle cx="1350.74" cy="385.55" r="3.10"/><circle cx="1346.70" cy="397.42" r="3.10"/><circle cx="1341.15" cy="408.66" r="3.10"/><circle cx="1334.18" cy="419.09" r="3.10"/><circle cx="1325.91" cy="428.52" r="3.10"/></g>
<g fill="#0f6f96"><circle cx="1367.16" cy="441.57" r="3.10"/><circle cx="1359.23" cy="451.29" r="3.10"/><circle cx="1350.44" cy="460.25" r="3.10"/><circle cx="1340.87" cy="468.35" r="3.10"/><circle cx="1330.59" cy="475.54" r="3.10"/><circle cx="1319.69" cy="481.75" r="3.10"/><circle cx="1308.26" cy="486.93" r="3.10"/><circle cx="1296.41" cy="491.04" r="3.10"/><circle cx="1284.23" cy="494.04" r="3.10"/><circle cx="1271.82" cy="495.91" r="3.10"/><circle cx="1259.29" cy="496.62" r="3.10"/><circle cx="1246.76" cy="496.18" r="3.10"/><circle cx="1234.31" cy="494.59" r="3.10"/><circle cx="1222.07" cy="491.86" r="3.10"/><circle cx="1210.13" cy="488.01" r="3.10"/><circle cx="1198.59" cy="483.08" r="3.10"/><circle cx="1187.56" cy="477.11" r="3.10"/><circle cx="1177.12" cy="470.15" r="3.10"/><circle cx="1167.37" cy="462.26" r="3.10"/><circle cx="1158.39" cy="453.50" r="3.10"/><circle cx="1150.25" cy="443.95" r="3.10"/><circle cx="1143.02" cy="433.70" r="3.10"/><circle cx="1136.77" cy="422.82" r="3.10"/><circle cx="1131.55" cy="411.41" r="3.10"/><circle cx="1127.40" cy="399.57" r="3.10"/><circle cx="1124.35" cy="387.40" r="3.10"/><circle cx="1122.44" cy="375.00" r="3.10"/><circle cx="1121.68" cy="362.48" r="3.10"/><circle cx="1122.08" cy="349.94" r="3.10"/><circle cx="1123.63" cy="337.49" r="3.10"/><circle cx="1126.31" cy="325.24" r="3.10"/><circle cx="1130.12" cy="313.28" r="3.10"/><circle cx="1135.01" cy="301.73" r="3.10"/><circle cx="1140.94" cy="290.67" r="3.10"/><circle cx="1147.86" cy="280.21" r="3.10"/><circle cx="1155.72" cy="270.43" r="3.10"/><circle cx="1164.45" cy="261.42" r="3.10"/><circle cx="1173.97" cy="253.24" r="3.10"/><circle cx="1184.20" cy="245.98" r="3.10"/><circle cx="1195.05" cy="239.69" r="3.10"/><circle cx="1206.44" cy="234.43" r="3.10"/><circle cx="1218.26" cy="230.24" r="3.10"/><circle cx="1230.42" cy="227.15" r="3.10"/><circle cx="1242.82" cy="225.20" r="3.10"/><circle cx="1255.33" cy="224.39" r="3.10"/><circle cx="1267.88" cy="224.74" r="3.10"/><circle cx="1280.33" cy="226.25" r="3.10"/><circle cx="1292.59" cy="228.89" r="3.10"/><circle cx="1304.56" cy="232.65" r="3.10"/><circle cx="1316.13" cy="237.50" r="3.10"/><circle cx="1327.21" cy="243.39" r="3.10"/><circle cx="1337.70" cy="250.28" r="3.10"/><circle cx="1347.50" cy="258.10" r="3.10"/><circle cx="1356.55" cy="266.80" r="3.10"/><circle cx="1364.76" cy="276.28" r="3.10"/><circle cx="1372.05" cy="286.49" r="3.10"/><circle cx="1378.38" cy="297.32" r="3.10"/><circle cx="1383.69" cy="308.69" r="3.10"/><circle cx="1387.92" cy="320.50" r="3.10"/><circle cx="1391.05" cy="332.65" r="3.10"/><circle cx="1393.05" cy="345.03" r="3.10"/><circle cx="1393.90" cy="357.55" r="3.10"/><circle cx="1393.59" cy="370.09" r="3.10"/><circle cx="1392.13" cy="382.55" r="3.10"/><circle cx="1389.53" cy="394.82" r="3.10"/><circle cx="1385.81" cy="406.81" r="3.10"/><circle cx="1381.01" cy="418.39" r="3.10"/><circle cx="1375.15" cy="429.49" r="3.10"/><circle cx="1368.30" cy="440.00" r="3.10"/></g>
<path d="M1534.6,475.6 L1529.7,484.7 L1524.5,493.5 L1519.0,502.1 L1513.2,510.4 L1507.0,518.4 L1500.6,526.2 L1493.9,533.7 L1486.9,540.8 L1479.7,547.7 L1472.3,554.2 L1464.6,560.5 L1456.8,566.3 L1448.7,571.9 L1440.5,577.1 L1432.2,582.0 L1423.7,586.5 L1415.1,590.7 L1406.4,594.5 L1397.7,598.0 L1388.8,601.1 L1379.9,603.9 L1371.0,606.4 L1362.0,608.5 L1353.0,610.2 L1344.0,611.7 L1335.0,612.8 L1326.1,613.6 L1317.1,614.0 L1308.3,614.2 L1299.4,614.0 L1290.7,613.5 L1282.0,612.8 L1273.4,611.7 L1264.9,610.4 L1256.5,608.8 L1248.2,606.9 L1240.0,604.7 L1232.0,602.3 L1224.1,599.7 L1216.3,596.8 L1208.7,593.7 L1201.2,590.3 L1193.8,586.8 L1186.7,583.0 L1179.7,579.0 L1172.8,574.8 L1166.1,570.4 L1159.6,565.9 L1153.3,561.1 L1147.2,556.2 L1141.2,551.2 L1135.5,546.0 L1129.9,540.6 L1124.5,535.1 L1119.3,529.4 L1114.3,523.6 L1109.5,517.7 L1104.9,511.7 L1100.4,505.6 L1096.2,499.3 L1092.2,493.0 L1088.4,486.5 L1084.8,480.0 L1081.4,473.4 L1078.2,466.7 L1075.2,460.0 L1072.4,453.1 L1069.8,446.2 L1067.4,439.3 L1065.2,432.3 L1063.3,425.3 L1061.5,418.2 L1060.0,411.0 L1058.6,403.9 L1057.5,396.7 L1056.5,389.5 L1055.8,382.3 L1055.3,375.0 L1055.0,367.8 L1054.9,360.5 L1055.0,353.2 L1055.3,346.0 L1055.8,338.7 L1056.5,331.5 L1057.5,324.3 L1058.6,317.1 L1060.0,310.0 L1061.5,302.8 L1063.3,295.7 L1065.2,288.7 L1067.4,281.7 L1069.8,274.8 L1072.4,267.9 L1075.2,261.0 L1078.2,254.3 L1081.4,247.6 L1084.8,241.0 L1088.4,234.5 L1092.2,228.0 L1096.2,221.7 L1100.4,215.4 L1104.9,209.3 L1109.5,203.3 L1114.3,197.4 L1119.3,191.6 L1124.5,185.9 L1129.9,180.4 L1135.5,175.0 L1141.2,169.8 L1147.2,164.8 L1153.3,159.9 L1159.6,155.1 L1166.1,150.6 L1172.8,146.2 L1179.7,142.0 L1186.7,138.0 L1193.8,134.2 L1201.2,130.7 L1208.7,127.3 L1216.3,124.2 L1224.1,121.3 L1232.0,118.7 L1240.0,116.3 L1248.2,114.1 L1256.5,112.2 L1264.9,110.6 L1273.4,109.3 L1282.0,108.2 L1290.7,107.5 L1299.4,107.0 L1308.3,106.8 L1317.1,107.0 L1326.1,107.4 L1335.0,108.2 L1344.0,109.3 L1353.0,110.8 L1362.0,112.5 L1371.0,114.6 L1379.9,117.1 L1388.8,119.9 L1397.7,123.0 L1406.4,126.5 L1415.1,130.3 L1423.7,134.5 L1432.2,139.0 L1440.5,143.9 L1448.7,149.1 L1456.8,154.7 L1464.6,160.5 L1472.3,166.8 L1479.7,173.3 L1486.9,180.2 L1493.9,187.3 L1500.6,194.8 L1507.0,202.6 L1513.2,210.6 L1519.0,218.9 L1524.5,227.5 L1529.7,236.3 L1534.6,245.4" stroke="#585858" stroke-width="1.15" stroke-dasharray="2.6 1.9" fill="none"/>
<path d="M1520.2,465.5 L1513.6,472.0 L1506.8,478.0 L1499.7,483.5 L1492.5,488.4 L1485.2,492.8 L1477.8,496.8 L1470.3,500.2 L1462.9,503.2 L1455.6,505.7 L1448.2,507.8 L1441.0,509.5 L1433.9,510.8 L1426.9,511.8 L1420.0,512.4 L1413.3,512.7 L1406.8,512.7 L1400.5,512.4 L1394.3,511.9 L1388.3,511.1 L1382.4,510.2 L1376.8,509.0 L1371.4,507.7 L1366.1,506.2 L1361.0,504.6 L1356.1,502.8 L1351.4,501.0 L1346.8,499.0 L1342.5,496.9 L1338.3,494.7 L1334.2,492.5 L1330.3,490.2 L1326.6,487.8 L1323.0,485.4 L1319.5,482.9 L1316.2,480.4 L1313.0,477.8 L1310.0,475.2 L1307.1,472.6 L1304.3,470.0 L1301.6,467.3 L1299.0,464.7 L1296.6,462.0 L1294.2,459.3 L1291.9,456.6 L1289.8,453.9 L1287.7,451.1 L1285.8,448.4 L1283.9,445.7 L1282.1,443.0 L1280.4,440.3 L1278.7,437.5 L1277.2,434.8 L1275.7,432.1 L1274.3,429.4 L1272.9,426.7 L1271.7,424.0 L1270.5,421.3 L1269.3,418.6 L1268.2,415.9 L1267.2,413.2 L1266.3,410.6 L1265.4,407.9 L1264.5,405.2 L1263.7,402.6 L1263.0,399.9 L1262.3,397.2 L1261.7,394.6 L1261.1,392.0 L1260.6,389.3 L1260.1,386.7 L1259.6,384.1 L1259.2,381.4 L1258.9,378.8 L1258.6,376.2 L1258.4,373.6 L1258.2,371.0 L1258.0,368.3 L1257.9,365.7 L1257.8,363.1 L1257.8,360.5 L1257.8,357.9 L1257.9,355.3 L1258.0,352.7 L1258.2,350.0 L1258.4,347.4 L1258.6,344.8 L1258.9,342.2 L1259.2,339.6 L1259.6,336.9 L1260.1,334.3 L1260.6,331.7 L1261.1,329.0 L1261.7,326.4 L1262.3,323.8 L1263.0,321.1 L1263.7,318.4 L1264.5,315.8 L1265.4,313.1 L1266.3,310.4 L1267.2,307.8 L1268.2,305.1 L1269.3,302.4 L1270.5,299.7 L1271.7,297.0 L1272.9,294.3 L1274.3,291.6 L1275.7,288.9 L1277.2,286.2 L1278.7,283.5 L1280.4,280.7 L1282.1,278.0 L1283.9,275.3 L1285.8,272.6 L1287.7,269.9 L1289.8,267.1 L1291.9,264.4 L1294.2,261.7 L1296.6,259.0 L1299.0,256.3 L1301.6,253.7 L1304.3,251.0 L1307.1,248.4 L1310.0,245.8 L1313.0,243.2 L1316.2,240.6 L1319.5,238.1 L1323.0,235.6 L1326.6,233.2 L1330.3,230.8 L1334.2,228.5 L1338.3,226.3 L1342.5,224.1 L1346.8,222.0 L1351.4,220.0 L1356.1,218.2 L1361.0,216.4 L1366.1,214.8 L1371.4,213.3 L1376.8,212.0 L1382.4,210.8 L1388.3,209.9 L1394.3,209.1 L1400.5,208.6 L1406.8,208.3 L1413.3,208.3 L1420.0,208.6 L1426.9,209.2 L1433.9,210.2 L1441.0,211.5 L1448.2,213.2 L1455.6,215.3 L1462.9,217.8 L1470.3,220.8 L1477.8,224.2 L1485.2,228.2 L1492.5,232.6 L1499.7,237.5 L1506.8,243.0 L1513.6,249.0 L1520.2,255.5" stroke="#585858" stroke-width="1.15" stroke-dasharray="2.6 1.9" fill="none"/>
<circle cx="1511.47" cy="360.50" r="50.73" stroke="#585858" stroke-width="1.15" stroke-dasharray="2.6 1.9" fill="none"/>
<path d="M976.8,243.4 L993.2,250.2 L1008.8,256.3 L1023.6,262.0 L1037.6,267.2 L1051.0,272.1 L1063.7,276.5 L1075.8,280.7 L1087.3,284.5 L1098.3,288.1 L1108.9,291.4 L1119.0,294.5 L1128.6,297.4 L1137.9,300.1 L1146.7,302.7 L1155.2,305.1 L1163.4,307.3 L1171.3,309.4 L1178.8,311.4 L1186.1,313.3 L1193.1,315.1 L1199.9,316.8 L1206.4,318.3 L1212.7,319.8 L1218.8,321.3 L1224.7,322.6 L1230.4,323.9 L1235.8,325.1 L1241.2,326.3 L1246.3,327.4 L1251.3,328.4 L1256.1,329.4 L1260.8,330.4 L1265.4,331.3 L1269.8,332.1 L1274.1,333.0 L1278.2,333.8 L1282.3,334.5 L1286.2,335.3 L1290.0,336.0 L1293.7,336.6 L1297.4,337.3 L1300.9,337.9 L1304.3,338.5 L1307.7,339.1 L1310.9,339.6 L1314.1,340.1 L1317.2,340.7 L1320.2,341.1 L1323.2,341.6 L1326.1,342.1 L1328.9,342.5 L1331.6,342.9 L1334.3,343.3 L1336.9,343.7 L1339.5,344.1 L1342.0,344.5 L1344.4,344.8 L1346.8,345.2 L1349.2,345.5 L1351.5,345.8 L1353.7,346.2 L1355.9,346.5 L1358.1,346.7 L1360.2,347.0 L1362.2,347.3 L1364.3,347.6 L1366.2,347.8 L1368.2,348.1 L1370.1,348.3 L1372.0,348.6 L1373.8,348.8 L1375.6,349.0 L1377.3,349.2 L1379.1,349.4 L1380.8,349.6 L1382.4,349.8 L1384.1,350.0 L1385.7,350.2 L1387.3,350.4 L1388.8,350.6 L1390.3,350.8 L1391.8,350.9 L1393.3,351.1 L1394.8,351.3 L1396.2,351.4 L1397.6,351.6 L1399.0,351.7 L1400.3,351.9 L1401.6,352.0 L1403.0,352.1 L1404.2,352.3 L1405.5,352.4 L1406.8,352.5 L1408.0,352.7 L1409.2,352.8 L1410.4,352.9 L1411.6,353.0 L1412.7,353.1 L1413.8,353.3 L1415.0,353.4 L1416.1,353.5 L1417.1,353.6 L1418.2,353.7 L1419.3,353.8 L1420.3,353.9 L1421.3,354.0 L1422.3,354.1 L1423.3,354.2 L1424.3,354.2 L1425.3,354.3 L1426.2,354.4 L1427.2,354.5 L1428.1,354.6 L1429.0,354.7 L1429.9,354.7 L1430.8,354.8 L1431.7,354.9 L1432.6,355.0 L1433.4,355.0 L1434.3,355.1 L1435.1,355.2 L1435.9,355.3 L1436.7,355.3 L1437.5,355.4 L1438.3,355.5 L1439.1,355.5 L1439.9,355.6 L1440.6,355.6 L1441.4,355.7 L1442.1,355.8 L1442.9,355.8 L1443.6,355.9 L1444.3,355.9 L1445.0,356.0 L1445.7,356.0 L1446.4,356.1 L1447.1,356.1 L1447.8,356.2 L1448.4,356.2 L1449.1,356.3 L1449.7,356.3 L1450.4,356.4 L1451.0,356.4 L1451.7,356.5 L1452.3,356.5 L1452.9,356.6 L1453.5,356.6 L1454.1,356.7 L1454.7,356.7 L1455.3,356.7 L1455.9,356.8 L1456.4,356.8 L1457.0,356.9 L1457.6,356.9 L1458.1,356.9 L1458.7,357.0 L1459.2,357.0 L1459.8,357.1 L1460.3,357.1 L1460.8,357.1" stroke="#585858" stroke-width="1.15" stroke-dasharray="2.6 1.9" fill="none"/>
<path d="M976.8,477.6 L993.2,470.8 L1008.8,464.7 L1023.6,459.0 L1037.6,453.8 L1051.0,448.9 L1063.7,444.5 L1075.8,440.3 L1087.3,436.5 L1098.3,432.9 L1108.9,429.6 L1119.0,426.5 L1128.6,423.6 L1137.9,420.9 L1146.7,418.3 L1155.2,415.9 L1163.4,413.7 L1171.3,411.6 L1178.8,409.6 L1186.1,407.7 L1193.1,405.9 L1199.9,404.2 L1206.4,402.7 L1212.7,401.2 L1218.8,399.7 L1224.7,398.4 L1230.4,397.1 L1235.8,395.9 L1241.2,394.7 L1246.3,393.6 L1251.3,392.6 L1256.1,391.6 L1260.8,390.6 L1265.4,389.7 L1269.8,388.9 L1274.1,388.0 L1278.2,387.2 L1282.3,386.5 L1286.2,385.7 L1290.0,385.0 L1293.7,384.4 L1297.4,383.7 L1300.9,383.1 L1304.3,382.5 L1307.7,381.9 L1310.9,381.4 L1314.1,380.9 L1317.2,380.3 L1320.2,379.9 L1323.2,379.4 L1326.1,378.9 L1328.9,378.5 L1331.6,378.1 L1334.3,377.7 L1336.9,377.3 L1339.5,376.9 L1342.0,376.5 L1344.4,376.2 L1346.8,375.8 L1349.2,375.5 L1351.5,375.2 L1353.7,374.8 L1355.9,374.5 L1358.1,374.3 L1360.2,374.0 L1362.2,373.7 L1364.3,373.4 L1366.2,373.2 L1368.2,372.9 L1370.1,372.7 L1372.0,372.4 L1373.8,372.2 L1375.6,372.0 L1377.3,371.8 L1379.1,371.6 L1380.8,371.4 L1382.4,371.2 L1384.1,371.0 L1385.7,370.8 L1387.3,370.6 L1388.8,370.4 L1390.3,370.2 L1391.8,370.1 L1393.3,369.9 L1394.8,369.7 L1396.2,369.6 L1397.6,369.4 L1399.0,369.3 L1400.3,369.1 L1401.6,369.0 L1403.0,368.9 L1404.2,368.7 L1405.5,368.6 L1406.8,368.5 L1408.0,368.3 L1409.2,368.2 L1410.4,368.1 L1411.6,368.0 L1412.7,367.9 L1413.8,367.7 L1415.0,367.6 L1416.1,367.5 L1417.1,367.4 L1418.2,367.3 L1419.3,367.2 L1420.3,367.1 L1421.3,367.0 L1422.3,366.9 L1423.3,366.8 L1424.3,366.8 L1425.3,366.7 L1426.2,366.6 L1427.2,366.5 L1428.1,366.4 L1429.0,366.3 L1429.9,366.3 L1430.8,366.2 L1431.7,366.1 L1432.6,366.0 L1433.4,366.0 L1434.3,365.9 L1435.1,365.8 L1435.9,365.7 L1436.7,365.7 L1437.5,365.6 L1438.3,365.5 L1439.1,365.5 L1439.9,365.4 L1440.6,365.4 L1441.4,365.3 L1442.1,365.2 L1442.9,365.2 L1443.6,365.1 L1444.3,365.1 L1445.0,365.0 L1445.7,365.0 L1446.4,364.9 L1447.1,364.9 L1447.8,364.8 L1448.4,364.8 L1449.1,364.7 L1449.7,364.7 L1450.4,364.6 L1451.0,364.6 L1451.7,364.5 L1452.3,364.5 L1452.9,364.4 L1453.5,364.4 L1454.1,364.3 L1454.7,364.3 L1455.3,364.3 L1455.9,364.2 L1456.4,364.2 L1457.0,364.1 L1457.6,364.1 L1458.1,364.1 L1458.7,364.0 L1459.2,364.0 L1459.8,363.9 L1460.3,363.9 L1460.8,363.9" stroke="#585858" stroke-width="1.15" stroke-dasharray="2.6 1.9" fill="none"/>
<path d="M1257.8,56.1 L1257.9,65.5 L1258.4,74.5 L1259.0,83.3 L1259.9,91.8 L1261.0,100.0 L1262.2,107.9 L1263.7,115.5 L1265.2,122.9 L1266.9,130.0 L1268.7,136.9 L1270.6,143.5 L1272.6,149.9 L1274.7,156.0 L1276.8,162.0 L1279.0,167.7 L1281.2,173.2 L1283.5,178.5 L1285.8,183.6 L1288.1,188.5 L1290.5,193.3 L1292.8,197.9 L1295.2,202.3 L1297.6,206.5 L1299.9,210.6 L1302.3,214.6 L1304.7,218.4 L1307.1,222.1 L1309.4,225.7 L1311.8,229.1 L1314.1,232.4 L1316.4,235.6 L1318.7,238.7 L1321.0,241.7 L1323.2,244.6 L1325.4,247.4 L1327.6,250.1 L1329.8,252.7 L1332.0,255.3 L1334.1,257.7 L1336.3,260.1 L1338.3,262.4 L1340.4,264.6 L1342.4,266.7 L1344.5,268.8 L1346.5,270.8 L1348.4,272.8 L1350.4,274.7 L1352.3,276.5 L1354.2,278.3 L1356.0,280.0 L1357.9,281.7 L1359.7,283.3 L1361.5,284.9 L1363.2,286.5 L1365.0,288.0 L1366.7,289.4 L1368.4,290.8 L1370.0,292.2 L1371.7,293.5 L1373.3,294.8 L1374.9,296.1 L1376.5,297.3 L1378.0,298.5 L1379.6,299.6 L1381.1,300.7 L1382.6,301.8 L1384.0,302.9 L1385.5,303.9 L1386.9,305.0 L1388.3,305.9 L1389.7,306.9 L1391.1,307.8 L1392.4,308.8 L1393.8,309.7 L1395.1,310.5 L1396.4,311.4 L1397.7,312.2 L1398.9,313.0 L1400.2,313.8 L1401.4,314.6 L1402.6,315.3 L1403.8,316.0 L1405.0,316.7 L1406.1,317.4 L1407.3,318.1 L1408.4,318.8 L1409.5,319.4 L1410.6,320.1 L1411.7,320.7 L1412.8,321.3 L1413.9,321.9 L1414.9,322.5 L1415.9,323.1 L1417.0,323.6 L1418.0,324.2 L1419.0,324.7 L1419.9,325.2 L1420.9,325.7 L1421.9,326.2 L1422.8,326.7 L1423.7,327.2 L1424.7,327.7 L1425.6,328.1 L1426.5,328.6 L1427.4,329.0 L1428.2,329.4 L1429.1,329.9 L1430.0,330.3 L1430.8,330.7 L1431.6,331.1 L1432.5,331.5 L1433.3,331.9 L1434.1,332.2 L1434.9,332.6 L1435.7,333.0 L1436.4,333.3 L1437.2,333.7 L1438.0,334.0 L1438.7,334.3 L1439.5,334.7 L1440.2,335.0 L1440.9,335.3 L1441.7,335.6 L1442.4,335.9 L1443.1,336.2 L1443.8,336.5 L1444.4,336.8 L1445.1,337.1 L1445.8,337.4 L1446.5,337.6 L1447.1,337.9 L1447.8,338.2 L1448.4,338.4 L1449.0,338.7 L1449.7,338.9 L1450.3,339.2 L1450.9,339.4 L1451.5,339.7 L1452.1,339.9 L1452.7,340.1 L1453.3,340.4 L1453.9,340.6 L1454.5,340.8 L1455.1,341.0 L1455.6,341.2 L1456.2,341.4 L1456.7,341.6 L1457.3,341.8 L1457.8,342.0 L1458.4,342.2 L1458.9,342.4 L1459.4,342.6 L1460.0,342.8 L1460.5,343.0 L1461.0,343.2 L1461.5,343.4 L1462.0,343.5 L1462.5,343.7 L1463.0,343.9 L1463.5,344.0" stroke="#585858" stroke-width="1.15" stroke-dasharray="2.6 1.9" fill="none"/>
<path d="M1257.8,664.9 L1257.9,655.5 L1258.4,646.5 L1259.0,637.7 L1259.9,629.2 L1261.0,621.0 L1262.2,613.1 L1263.7,605.5 L1265.2,598.1 L1266.9,591.0 L1268.7,584.1 L1270.6,577.5 L1272.6,571.1 L1274.7,565.0 L1276.8,559.0 L1279.0,553.3 L1281.2,547.8 L1283.5,542.5 L1285.8,537.4 L1288.1,532.5 L1290.5,527.7 L1292.8,523.1 L1295.2,518.7 L1297.6,514.5 L1299.9,510.4 L1302.3,506.4 L1304.7,502.6 L1307.1,498.9 L1309.4,495.3 L1311.8,491.9 L1314.1,488.6 L1316.4,485.4 L1318.7,482.3 L1321.0,479.3 L1323.2,476.4 L1325.4,473.6 L1327.6,470.9 L1329.8,468.3 L1332.0,465.7 L1334.1,463.3 L1336.3,460.9 L1338.3,458.6 L1340.4,456.4 L1342.4,454.3 L1344.5,452.2 L1346.5,450.2 L1348.4,448.2 L1350.4,446.3 L1352.3,444.5 L1354.2,442.7 L1356.0,441.0 L1357.9,439.3 L1359.7,437.7 L1361.5,436.1 L1363.2,434.5 L1365.0,433.0 L1366.7,431.6 L1368.4,430.2 L1370.0,428.8 L1371.7,427.5 L1373.3,426.2 L1374.9,424.9 L1376.5,423.7 L1378.0,422.5 L1379.6,421.4 L1381.1,420.3 L1382.6,419.2 L1384.0,418.1 L1385.5,417.1 L1386.9,416.0 L1388.3,415.1 L1389.7,414.1 L1391.1,413.2 L1392.4,412.2 L1393.8,411.3 L1395.1,410.5 L1396.4,409.6 L1397.7,408.8 L1398.9,408.0 L1400.2,407.2 L1401.4,406.4 L1402.6,405.7 L1403.8,405.0 L1405.0,404.3 L1406.1,403.6 L1407.3,402.9 L1408.4,402.2 L1409.5,401.6 L1410.6,400.9 L1411.7,400.3 L1412.8,399.7 L1413.9,399.1 L1414.9,398.5 L1415.9,397.9 L1417.0,397.4 L1418.0,396.8 L1419.0,396.3 L1419.9,395.8 L1420.9,395.3 L1421.9,394.8 L1422.8,394.3 L1423.7,393.8 L1424.7,393.3 L1425.6,392.9 L1426.5,392.4 L1427.4,392.0 L1428.2,391.6 L1429.1,391.1 L1430.0,390.7 L1430.8,390.3 L1431.6,389.9 L1432.5,389.5 L1433.3,389.1 L1434.1,388.8 L1434.9,388.4 L1435.7,388.0 L1436.4,387.7 L1437.2,387.3 L1438.0,387.0 L1438.7,386.7 L1439.5,386.3 L1440.2,386.0 L1440.9,385.7 L1441.7,385.4 L1442.4,385.1 L1443.1,384.8 L1443.8,384.5 L1444.4,384.2 L1445.1,383.9 L1445.8,383.6 L1446.5,383.4 L1447.1,383.1 L1447.8,382.8 L1448.4,382.6 L1449.0,382.3 L1449.7,382.1 L1450.3,381.8 L1450.9,381.6 L1451.5,381.3 L1452.1,381.1 L1452.7,380.9 L1453.3,380.6 L1453.9,380.4 L1454.5,380.2 L1455.1,380.0 L1455.6,379.8 L1456.2,379.6 L1456.7,379.4 L1457.3,379.2 L1457.8,379.0 L1458.4,378.8 L1458.9,378.6 L1459.4,378.4 L1460.0,378.2 L1460.5,378.0 L1461.0,377.8 L1461.5,377.6 L1462.0,377.5 L1462.5,377.3 L1463.0,377.1 L1463.5,377.0" stroke="#585858" stroke-width="1.15" stroke-dasharray="2.6 1.9" fill="none"/>
<path d="M1538.8,243.4 L1538.6,243.5 L1538.4,243.6 L1538.2,243.7 L1537.9,243.8 L1537.7,243.9 L1537.5,244.0 L1537.3,244.1 L1537.1,244.2 L1536.9,244.3 L1536.7,244.3 L1536.5,244.4 L1536.3,244.5 L1536.1,244.6 L1535.8,244.7 L1535.6,244.8 L1535.4,244.9 L1535.2,245.0 L1535.0,245.1 L1534.8,245.3 L1534.6,245.4 L1534.4,245.5 L1534.2,245.6 L1534.0,245.7 L1533.8,245.8 L1533.5,245.9 L1533.3,246.0 L1533.1,246.1 L1532.9,246.3 L1532.7,246.4 L1532.5,246.5 L1532.3,246.6 L1532.1,246.7 L1531.8,246.9 L1531.6,247.0 L1531.4,247.1 L1531.2,247.2 L1531.0,247.4 L1530.8,247.5 L1530.5,247.6 L1530.3,247.8 L1530.1,247.9 L1529.9,248.0 L1529.6,248.2 L1529.4,248.3 L1529.2,248.5 L1529.0,248.6 L1528.7,248.8 L1528.5,248.9 L1528.3,249.1 L1528.1,249.2 L1527.8,249.4 L1527.6,249.5 L1527.3,249.7 L1527.1,249.9 L1526.9,250.0 L1526.6,250.2 L1526.4,250.4 L1526.1,250.6 L1525.9,250.7 L1525.7,250.9 L1525.4,251.1 L1525.1,251.3 L1524.9,251.5 L1524.6,251.7 L1524.4,251.9 L1524.1,252.1 L1523.9,252.3 L1523.6,252.5 L1523.3,252.8 L1523.1,253.0 L1522.8,253.2 L1522.5,253.5 L1522.2,253.7 L1522.0,253.9 L1521.7,254.2 L1521.4,254.4 L1521.1,254.7 L1520.8,255.0 L1520.5,255.2 L1520.2,255.5 L1519.9,255.8 L1519.6,256.1 L1519.3,256.4 L1519.0,256.7 L1518.7,257.0 L1518.4,257.4 L1518.1,257.7 L1517.7,258.0 L1517.4,258.4 L1517.1,258.8 L1516.7,259.1 L1516.4,259.5 L1516.1,259.9 L1515.7,260.3 L1515.4,260.7 L1515.0,261.2 L1514.6,261.6 L1514.3,262.1 L1513.9,262.5 L1513.5,263.0 L1513.2,263.5 L1512.8,264.0 L1512.4,264.6 L1512.0,265.1 L1511.6,265.7 L1511.2,266.3 L1510.8,266.9 L1510.4,267.6 L1510.0,268.2 L1509.6,268.9 L1509.2,269.6 L1508.8,270.4 L1508.4,271.1 L1508.0,271.9 L1507.6,272.7 L1507.2,273.6 L1506.7,274.5 L1506.3,275.4 L1505.9,276.4 L1505.5,277.4 L1505.1,278.5 L1504.7,279.6 L1504.3,280.7 L1503.9,281.9 L1503.6,283.2 L1503.2,284.5 L1502.9,285.9 L1502.6,287.3 L1502.3,288.8 L1502.0,290.4 L1501.8,292.0 L1501.6,293.8 L1501.5,295.6 L1501.4,297.5 L1501.3,299.4 L1501.3,301.5 L1501.5,303.7 L1501.6,305.9 L1501.9,308.3 L1502.3,310.8 L1502.9,313.3 L1503.6,316.0 L1504.4,318.7 L1505.4,321.6 L1506.6,324.5 L1508.1,327.5 L1509.8,330.6 L1511.8,333.7 L1514.0,336.9 L1516.6,340.0 L1519.5,343.1 L1522.8,346.1 L1526.5,348.9 L1530.5,351.6 L1534.9,354.1 L1539.7,356.2 L1544.9,358.0 L1550.3,359.3 L1556.0,360.2 L1561.9,360.5" stroke="#585858" stroke-width="1.15" stroke-dasharray="2.6 1.9" fill="none"/>
<path d="M1538.8,477.6 L1538.6,477.5 L1538.4,477.4 L1538.2,477.3 L1537.9,477.2 L1537.7,477.1 L1537.5,477.0 L1537.3,476.9 L1537.1,476.8 L1536.9,476.7 L1536.7,476.7 L1536.5,476.6 L1536.3,476.5 L1536.1,476.4 L1535.8,476.3 L1535.6,476.2 L1535.4,476.1 L1535.2,476.0 L1535.0,475.9 L1534.8,475.7 L1534.6,475.6 L1534.4,475.5 L1534.2,475.4 L1534.0,475.3 L1533.8,475.2 L1533.5,475.1 L1533.3,475.0 L1533.1,474.9 L1532.9,474.7 L1532.7,474.6 L1532.5,474.5 L1532.3,474.4 L1532.1,474.3 L1531.8,474.1 L1531.6,474.0 L1531.4,473.9 L1531.2,473.8 L1531.0,473.6 L1530.8,473.5 L1530.5,473.4 L1530.3,473.2 L1530.1,473.1 L1529.9,473.0 L1529.6,472.8 L1529.4,472.7 L1529.2,472.5 L1529.0,472.4 L1528.7,472.2 L1528.5,472.1 L1528.3,471.9 L1528.1,471.8 L1527.8,471.6 L1527.6,471.5 L1527.3,471.3 L1527.1,471.1 L1526.9,471.0 L1526.6,470.8 L1526.4,470.6 L1526.1,470.4 L1525.9,470.3 L1525.7,470.1 L1525.4,469.9 L1525.1,469.7 L1524.9,469.5 L1524.6,469.3 L1524.4,469.1 L1524.1,468.9 L1523.9,468.7 L1523.6,468.5 L1523.3,468.2 L1523.1,468.0 L1522.8,467.8 L1522.5,467.5 L1522.2,467.3 L1522.0,467.1 L1521.7,466.8 L1521.4,466.6 L1521.1,466.3 L1520.8,466.0 L1520.5,465.8 L1520.2,465.5 L1519.9,465.2 L1519.6,464.9 L1519.3,464.6 L1519.0,464.3 L1518.7,464.0 L1518.4,463.6 L1518.1,463.3 L1517.7,463.0 L1517.4,462.6 L1517.1,462.2 L1516.7,461.9 L1516.4,461.5 L1516.1,461.1 L1515.7,460.7 L1515.4,460.3 L1515.0,459.8 L1514.6,459.4 L1514.3,458.9 L1513.9,458.5 L1513.5,458.0 L1513.2,457.5 L1512.8,457.0 L1512.4,456.4 L1512.0,455.9 L1511.6,455.3 L1511.2,454.7 L1510.8,454.1 L1510.4,453.4 L1510.0,452.8 L1509.6,452.1 L1509.2,451.4 L1508.8,450.6 L1508.4,449.9 L1508.0,449.1 L1507.6,448.3 L1507.2,447.4 L1506.7,446.5 L1506.3,445.6 L1505.9,444.6 L1505.5,443.6 L1505.1,442.5 L1504.7,441.4 L1504.3,440.3 L1503.9,439.1 L1503.6,437.8 L1503.2,436.5 L1502.9,435.1 L1502.6,433.7 L1502.3,432.2 L1502.0,430.6 L1501.8,429.0 L1501.6,427.2 L1501.5,425.4 L1501.4,423.5 L1501.3,421.6 L1501.3,419.5 L1501.5,417.3 L1501.6,415.1 L1501.9,412.7 L1502.3,410.2 L1502.9,407.7 L1503.6,405.0 L1504.4,402.3 L1505.4,399.4 L1506.6,396.5 L1508.1,393.5 L1509.8,390.4 L1511.8,387.3 L1514.0,384.1 L1516.6,381.0 L1519.5,377.9 L1522.8,374.9 L1526.5,372.1 L1530.5,369.4 L1534.9,366.9 L1539.7,364.8 L1544.9,363.0 L1550.3,361.7 L1556.0,360.8 L1561.9,360.5" stroke="#585858" stroke-width="1.15" stroke-dasharray="2.6 1.9" fill="none"/>
<line x1="953.4" y1="360.5" x2="1562.2" y2="360.5" stroke="#000" stroke-width="4.7"/>
<circle cx="1257.8" cy="360.5" r="304.4" fill="none" stroke="#000" stroke-width="4.7"/>
<path d="M1402.7,232.8 C1402.1,231.8 1400.2,228.7 1399.0,226.7 C1397.8,224.7 1396.5,222.7 1395.2,220.7 C1393.9,218.7 1392.7,216.8 1391.4,214.9 C1390.2,213.0 1389.0,211.1 1387.7,209.2 C1386.4,207.3 1385.3,205.3 1383.4,203.4 C1381.5,201.5 1378.9,199.6 1376.2,197.9 C1373.5,196.2 1369.9,194.7 1367.2,193.4 C1364.5,192.1 1362.7,191.4 1360.0,190.2 C1357.3,189.0 1354.5,187.4 1351.3,186.0 C1348.0,184.6 1344.1,182.9 1340.5,181.5 C1336.9,180.1 1333.2,178.8 1329.6,177.6 C1326.0,176.4 1322.3,175.3 1318.7,174.4 C1315.1,173.5 1311.5,172.6 1307.9,172.0 C1304.3,171.4 1300.6,170.9 1297.0,170.6 C1293.4,170.3 1289.8,170.3 1286.2,170.3 C1282.6,170.3 1278.9,170.5 1275.3,170.8 C1271.7,171.2 1268.1,171.7 1264.5,172.4 C1260.9,173.1 1257.2,174.1 1253.6,175.2 C1250.0,176.3 1246.4,177.5 1242.8,178.9 C1239.2,180.3 1235.5,182.0 1231.9,183.8 C1228.3,185.6 1224.6,187.5 1221.1,189.7 C1217.6,191.9 1214.3,194.3 1211.0,196.8 C1207.7,199.3 1204.4,202.2 1201.5,204.9 C1198.6,207.6 1196.0,210.3 1193.5,213.2 C1191.0,216.1 1188.5,219.2 1186.3,222.3 C1184.1,225.4 1182.2,228.6 1180.4,231.8 C1178.6,235.1 1177.0,238.5 1175.5,241.8 C1174.0,245.1 1172.8,248.2 1171.7,251.5 C1170.6,254.8 1169.7,258.1 1169.0,261.4 C1168.3,264.6 1167.8,267.8 1167.4,271.0 C1167.0,274.2 1166.8,277.4 1166.8,280.7 C1166.8,283.9 1166.9,287.2 1167.2,290.5 C1167.5,293.8 1168.2,297.1 1168.8,300.3 C1169.4,303.5 1170.1,306.5 1171.0,309.5 C1171.9,312.5 1172.8,315.4 1174.1,318.4 C1175.4,321.4 1177.0,324.7 1178.8,327.7 C1180.6,330.7 1182.7,333.8 1184.7,336.4 C1186.7,339.0 1188.8,341.3 1191.0,343.6 C1193.2,345.9 1195.8,348.1 1198.2,350.0 C1200.6,351.9 1203.0,353.4 1205.5,354.9 C1208.0,356.4 1210.8,357.9 1213.3,359.0 C1215.8,360.1 1218.3,361.0 1220.8,361.8 C1223.3,362.6 1225.9,363.4 1228.4,363.9 C1230.9,364.4 1233.5,364.8 1236.0,365.0 C1238.5,365.2 1241.1,365.2 1243.4,365.1 C1245.7,365.0 1247.8,364.9 1249.8,364.6 C1251.8,364.4 1253.8,364.0 1255.5,363.6 C1257.2,363.2 1258.8,362.8 1260.3,362.3 C1261.8,361.8 1262.9,361.4 1264.5,360.6 C1266.1,359.8 1268.3,358.7 1270.0,357.5 C1271.7,356.3 1273.8,354.2 1274.5,353.6" stroke="#3f83fa" stroke-width="6.1" stroke-linecap="round" stroke-linejoin="round" fill="none"/>
<path d="M1134.5,106.1 C1136.3,105.4 1141.9,103.4 1145.6,102.2 C1149.3,101.0 1153.0,100.0 1156.7,99.1 C1160.4,98.2 1164.1,97.4 1167.8,96.7 C1171.5,96.0 1175.2,95.5 1178.9,95.0 C1182.6,94.5 1186.2,94.2 1189.9,93.9 C1193.6,93.6 1197.3,93.5 1200.9,93.4 C1204.5,93.4 1208.1,93.4 1211.7,93.6 C1215.3,93.8 1218.9,94.0 1222.4,94.3 C1225.9,94.6 1229.4,95.1 1232.9,95.6 C1236.4,96.1 1239.9,96.7 1243.3,97.4 C1246.7,98.1 1250.1,98.8 1253.5,99.7 C1256.9,100.6 1260.2,101.6 1263.5,102.6 C1266.8,103.6 1270.1,104.7 1273.3,105.9 C1276.5,107.1 1279.7,108.4 1282.8,109.8 C1285.9,111.2 1289.0,112.6 1292.1,114.2 C1295.2,115.8 1298.2,117.5 1301.2,119.2 C1304.2,120.9 1307.1,122.7 1309.9,124.6 C1312.8,126.5 1315.5,128.5 1318.3,130.6 C1321.0,132.7 1323.8,134.9 1326.4,137.1 C1329.0,139.3 1331.5,141.6 1334.0,144.0 C1336.5,146.4 1338.8,148.9 1341.1,151.5 C1343.4,154.1 1345.7,156.8 1347.8,159.5 C1349.9,162.2 1352.0,165.0 1353.9,167.9 C1355.8,170.8 1357.7,173.7 1359.4,176.7 C1361.1,179.7 1362.8,182.8 1364.3,185.9 C1365.8,189.0 1367.2,192.2 1368.4,195.5 C1369.7,198.8 1370.8,202.1 1371.8,205.4 C1372.8,208.7 1373.8,212.1 1374.5,215.5 C1375.2,218.9 1375.8,222.3 1376.3,225.7 C1376.8,229.1 1377.1,232.6 1377.3,236.1 C1377.5,239.6 1377.5,243.1 1377.4,246.5 C1377.3,249.9 1377.1,253.4 1376.7,256.8 C1376.3,260.2 1375.7,263.6 1375.0,267.0 C1374.3,270.4 1373.5,273.7 1372.5,277.0 C1371.5,280.3 1370.5,283.5 1369.2,286.7 C1368.0,289.9 1366.5,293.0 1365.0,296.0 C1363.5,299.0 1361.8,301.9 1360.0,304.7 C1358.2,307.5 1356.4,310.4 1354.4,313.0 C1352.4,315.6 1349.1,319.3 1348.0,320.6" stroke="#3f83fa" stroke-width="6.1" stroke-linecap="round" stroke-linejoin="round" fill="none"/>
<path d="M1274.5,353.6 C1275.7,353.1 1279.3,351.9 1281.5,350.6 C1283.7,349.3 1285.8,347.8 1287.5,346.0 C1289.2,344.2 1290.2,342.1 1291.4,340.0 C1292.6,337.9 1293.1,336.8 1294.4,333.4 C1295.7,330.0 1298.0,324.3 1299.0,319.7 C1300.0,315.1 1300.6,310.3 1300.6,305.9 C1300.6,301.5 1300.2,297.1 1299.0,293.3 C1297.8,289.5 1295.7,285.9 1293.2,283.0 C1290.7,280.1 1287.5,277.8 1284.1,276.1 C1280.7,274.4 1276.4,273.1 1272.6,272.7 C1268.8,272.2 1264.8,272.4 1261.2,273.4 C1257.6,274.3 1254.0,276.0 1250.9,278.4 C1247.8,280.8 1244.8,284.2 1242.8,287.6 C1240.8,291.0 1239.6,295.2 1239.0,299.0 C1238.4,302.8 1238.6,306.7 1239.4,310.5 C1240.2,314.3 1241.9,318.3 1244.0,321.9 C1246.1,325.5 1249.0,329.2 1252.0,332.3 C1255.0,335.4 1258.7,338.0 1262.3,340.3 C1265.9,342.6 1269.8,344.6 1273.8,346.0 C1277.8,347.4 1282.8,348.6 1286.4,349.0 C1290.0,349.4 1292.8,348.9 1295.5,348.3 C1298.2,347.7 1299.5,346.2 1302.9,345.2 C1306.3,344.2 1311.8,343.7 1315.8,342.4 C1319.8,341.1 1323.3,339.3 1327.0,337.2 C1330.7,335.1 1334.5,332.7 1338.0,330.0 C1341.5,327.3 1346.6,322.3 1348.3,320.8" stroke="#ff5508" stroke-width="6.1" stroke-linecap="round" stroke-linejoin="round" fill="none"/>
<circle cx="1274.6" cy="353.4" r="10.8" fill="url(#ballPink)"/><circle cx="1271.68" cy="350.48" r="5.40" fill="url(#hlP)"/>
<circle cx="1302.9" cy="344.9" r="10.9" fill="url(#ballNavy)"/><circle cx="1299.96" cy="341.96" r="5.45" fill="url(#hlN)"/>
<line x1="953.4" y1="360.5" x2="1562.2" y2="360.5" stroke="#000" stroke-width="4.7"/>
<text x="1257.5" y="29.3" font-size="37.0" text-anchor="middle" font-family="Liberation Serif, serif" font-weight="bold" >1.0j</text>
<text x="932.5" y="237.7" font-size="37.0" text-anchor="middle" font-family="Liberation Serif, serif" font-weight="bold" >0.2j</text>
<text x="1581.0" y="238.2" font-size="37.0" text-anchor="middle" font-family="Liberation Serif, serif" font-weight="bold" >5.0j</text>
<text x="932.5" y="501.3" font-size="37.0" text-anchor="middle" font-family="Liberation Serif, serif" font-weight="bold" >-0.2j</text>
<text x="1581.0" y="500.8" font-size="37.0" text-anchor="middle" font-family="Liberation Serif, serif" font-weight="bold" >-5.0j</text>
<text x="1257.5" y="711.2" font-size="37.0" text-anchor="middle" font-family="Liberation Serif, serif" font-weight="bold" >-1.0j</text>
<text x="1055.0" y="401.2" font-size="37.5" text-anchor="middle" font-family="Liberation Serif, serif" font-weight="bold" >0.2</text>
<text x="1258.0" y="401.2" font-size="37.5" text-anchor="middle" font-family="Liberation Serif, serif" font-weight="bold" >1.0</text>
<text x="1460.7" y="401.2" font-size="37.5" text-anchor="middle" font-family="Liberation Serif, serif" font-weight="bold" >5.0</text>
<text x="1043.6" y="681.2" font-size="42.5" text-anchor="middle" font-family="Liberation Serif, serif" font-weight="bold" >Imag(Z)</text>
<text transform="translate(1583.3,357.8) rotate(90)" font-size="42.3" text-anchor="middle" font-family="Liberation Serif, serif" font-weight="bold">Real(Z)</text>
<text x="878.4" y="35.0" font-size="41.5" text-anchor="start" font-family="Liberation Sans, sans-serif" font-weight="bold" >(c)</text>
<line x1="1156" y1="545" x2="1187.4" y2="545" stroke="#ff5508" stroke-width="6.4" stroke-linecap="round"/>
<line x1="1156" y1="588.7" x2="1187.4" y2="588.7" stroke="#3f83fa" stroke-width="6.4" stroke-linecap="round"/>
<text x="1197.3" y="554.6" font-size="29.9" font-family="Liberation Serif, serif" font-weight="bold">Z<tspan font-size="21" dy="7.6">eff</tspan><tspan dy="-7.6"> (5 - 7.6 μm)</tspan></text>
<text x="1197.3" y="598.4" font-size="29.9" font-family="Liberation Serif, serif" font-weight="bold">Z<tspan font-size="21" dy="7.6">eff</tspan><tspan dy="-7.6"> (3 - 14 μm)</tspan></text>
<g opacity="1"><rect x="1498.6" y="14.6" width="35.5" height="21.4" fill="url(#ls08)"/><path d="M1498.6,14.6 h35.5 v21.4 h-35.5 Z" stroke="#b2d9e6" stroke-width="6" stroke-linecap="round" stroke-linejoin="round" stroke-dasharray="0 12.6" fill="none"/></g>
<g opacity="1"><rect x="1498.6" y="56.7" width="35.5" height="21.4" fill="#ebe3e3"/><path d="M1498.6,56.7 h35.5 v21.4 h-35.5 Z" stroke="#dfdfee" stroke-width="6" stroke-linecap="round" stroke-linejoin="round" stroke-dasharray="0 12.6" fill="none"/></g>
<g opacity="1"><rect x="1498.6" y="98.7" width="35.5" height="21.4" fill="url(#ls095)"/><path d="M1498.6,98.7 h35.5 v21.4 h-35.5 Z" stroke="#f9d2d2" stroke-width="6" stroke-linecap="round" stroke-linejoin="round" stroke-dasharray="0 12.6" fill="none"/></g>
<text x="1555.0" y="35.7" font-size="33.2" text-anchor="start" font-family="Liberation Serif, serif" font-weight="bold" >A=0.8</text>
<text x="1555.0" y="77.9" font-size="33.2" text-anchor="start" font-family="Liberation Serif, serif" font-weight="bold" >A=0.9</text>
<text x="1555.0" y="120.0" font-size="33.2" text-anchor="start" font-family="Liberation Serif, serif" font-weight="bold" >A=0.95</text>
<circle cx="1418.7" cy="684.6" r="8.5" fill="url(#ballPink)"/><circle cx="1416.40" cy="682.31" r="4.25" fill="url(#hlP)"/>
<circle cx="1418.7" cy="733.7" r="8.5" fill="url(#ballNavy)"/><circle cx="1416.40" cy="731.41" r="4.25" fill="url(#hlN)"/>
<text x="1463.5" y="697.2" font-size="38.5" text-anchor="start" font-family="Liberation Serif, serif" font-weight="bold" >@ 5.02 μm</text>
<text x="1463.5" y="746.3" font-size="38.5" text-anchor="start" font-family="Liberation Serif, serif" font-weight="bold" >@ 6.76 μm</text>
<defs>
<linearGradient id="h1band" gradientUnits="userSpaceOnUse" x1="0" y1="1136.5" x2="0" y2="1181">
 <stop offset="0.0000" stop-color="#fff" stop-opacity="0.000"/>
 <stop offset="0.0674" stop-color="#fff" stop-opacity="0.300"/>
 <stop offset="0.1348" stop-color="#fff" stop-opacity="0.750"/>
 <stop offset="0.1910" stop-color="#fff" stop-opacity="1.000"/>
 <stop offset="0.2697" stop-color="#fff" stop-opacity="1.000"/>
 <stop offset="0.3483" stop-color="#fff" stop-opacity="0.850"/>
 <stop offset="0.4831" stop-color="#fff" stop-opacity="0.620"/>
 <stop offset="0.6404" stop-color="#fff" stop-opacity="0.400"/>
 <stop offset="0.7978" stop-color="#fff" stop-opacity="0.200"/>
 <stop offset="0.9326" stop-color="#fff" stop-opacity="0.050"/>
 <stop offset="1.0000" stop-color="#fff" stop-opacity="0.000"/>
</linearGradient>
<linearGradient id="h1mask" gradientUnits="userSpaceOnUse" x1="143" y1="0" x2="804" y2="0">
 <stop offset="0.0000" stop-color="rgb(228,228,228)"/>
 <stop offset="0.0862" stop-color="rgb(224,224,224)"/>
 <stop offset="0.1241" stop-color="rgb(206,206,206)"/>
 <stop offset="0.1543" stop-color="rgb(180,180,180)"/>
 <stop offset="0.1921" stop-color="rgb(133,133,133)"/>
 <stop offset="0.2375" stop-color="rgb(78,78,78)"/>
 <stop offset="0.2753" stop-color="rgb(43,43,43)"/>
 <stop offset="0.3056" stop-color="rgb(37,37,37)"/>
 <stop offset="0.3359" stop-color="rgb(49,49,49)"/>
 <stop offset="0.3737" stop-color="rgb(78,78,78)"/>
 <stop offset="0.4115" stop-color="rgb(114,114,114)"/>
 <stop offset="0.4493" stop-color="rgb(145,145,145)"/>
 <stop offset="0.4796" stop-color="rgb(161,161,161)"/>
 <stop offset="0.5000" stop-color="rgb(167,167,167)"/>
 <stop offset="0.5204" stop-color="rgb(161,161,161)"/>
 <stop offset="0.5507" stop-color="rgb(145,145,145)"/>
 <stop offset="0.5885" stop-color="rgb(114,114,114)"/>
 <stop offset="0.6263" stop-color="rgb(78,78,78)"/>
 <stop offset="0.6641" stop-color="rgb(49,49,49)"/>
 <stop offset="0.6944" stop-color="rgb(37,37,37)"/>
 <stop offset="0.7247" stop-color="rgb(43,43,43)"/>
 <stop offset="0.7625" stop-color="rgb(78,78,78)"/>
 <stop offset="0.8079" stop-color="rgb(133,133,133)"/>
 <stop offset="0.8457" stop-color="rgb(180,180,180)"/>
 <stop offset="0.8759" stop-color="rgb(206,206,206)"/>
 <stop offset="0.9138" stop-color="rgb(224,224,224)"/>
 <stop offset="1.0000" stop-color="rgb(228,228,228)"/>
</linearGradient>
<mask id="m1" maskUnits="userSpaceOnUse" x="140" y="1130" width="670" height="60"><rect x="140" y="1130" width="670" height="60" fill="url(#h1mask)"/></mask>
<filter id="boost" filterUnits="userSpaceOnUse" x="142" y="1134" width="663" height="50" color-interpolation-filters="sRGB"><feComponentTransfer><feFuncA type="linear" slope="1.30" intercept="0"/></feComponentTransfer></filter>
<linearGradient id="p1r" gradientUnits="userSpaceOnUse" x1="376" y1="0" x2="572" y2="0">
 <stop offset="0" stop-color="#ff7070" stop-opacity="0"/>
 <stop offset="0.07" stop-color="#ff6a6a" stop-opacity="0.55"/>
 <stop offset="0.18" stop-color="#ff3434" stop-opacity="1"/>
 <stop offset="0.5" stop-color="#ff1818" stop-opacity="1"/>
 <stop offset="0.82" stop-color="#ff3434" stop-opacity="1"/>
 <stop offset="0.93" stop-color="#ff6a6a" stop-opacity="0.55"/>
 <stop offset="1" stop-color="#ff7070" stop-opacity="0"/>
</linearGradient>
<linearGradient id="p1h" gradientUnits="userSpaceOnUse" x1="233" y1="0" x2="713" y2="0">
 <stop offset="0" stop-color="#5a5aff"/>
 <stop offset="0.1" stop-color="#a8a8ff"/>
 <stop offset="0.27" stop-color="#ffffff"/>
 <stop offset="0.34" stop-color="#ffb0b0"/>
 <stop offset="0.42" stop-color="#ff3a3a"/>
 <stop offset="0.5" stop-color="#ff1010"/>
 <stop offset="0.58" stop-color="#ff3a3a"/>
 <stop offset="0.66" stop-color="#ffb0b0"/>
 <stop offset="0.73" stop-color="#ffffff"/>
 <stop offset="0.9" stop-color="#a8a8ff"/>
 <stop offset="1" stop-color="#5a5aff"/>
</linearGradient>
<linearGradient id="p1w" gradientUnits="userSpaceOnUse" x1="233" y1="0" x2="713" y2="0">
 <stop offset="0" stop-color="#fff" stop-opacity="0.42"/>
 <stop offset="0.083" stop-color="#fff" stop-opacity="0.62"/>
 <stop offset="0.146" stop-color="#fff" stop-opacity="0.77"/>
 <stop offset="0.248" stop-color="#fff" stop-opacity="0.93"/>
 <stop offset="0.296" stop-color="#fff" stop-opacity="1"/>
 <stop offset="0.704" stop-color="#fff" stop-opacity="1"/>
 <stop offset="0.752" stop-color="#fff" stop-opacity="0.93"/>
 <stop offset="0.854" stop-color="#fff" stop-opacity="0.77"/>
 <stop offset="0.917" stop-color="#fff" stop-opacity="0.62"/>
 <stop offset="1" stop-color="#fff" stop-opacity="0.42"/>
</linearGradient>
<linearGradient id="p2h" gradientUnits="userSpaceOnUse" x1="989" y1="0" x2="1470" y2="0">
 <stop offset="0" stop-color="#ffffff" stop-opacity="0"/>
 <stop offset="0.12" stop-color="#ffffff" stop-opacity="0"/>
 <stop offset="0.175" stop-color="#ffffff" stop-opacity="0.6"/>
 <stop offset="0.225" stop-color="#ffaaaa" stop-opacity="1"/>
 <stop offset="0.27" stop-color="#ff5a5a" stop-opacity="1"/>
 <stop offset="0.35" stop-color="#ff2c2c" stop-opacity="1"/>
 <stop offset="0.5" stop-color="#ff1616" stop-opacity="1"/>
 <stop offset="0.65" stop-color="#ff2c2c" stop-opacity="1"/>
 <stop offset="0.73" stop-color="#ff5a5a" stop-opacity="1"/>
 <stop offset="0.775" stop-color="#ffaaaa" stop-opacity="1"/>
 <stop offset="0.825" stop-color="#ffffff" stop-opacity="0.6"/>
 <stop offset="0.88" stop-color="#ffffff" stop-opacity="0"/>
 <stop offset="1" stop-color="#ffffff" stop-opacity="0"/>
</linearGradient>
<linearGradient id="p2w" gradientUnits="userSpaceOnUse" x1="989" y1="0" x2="1470" y2="0">
 <stop offset="0" stop-color="#fff" stop-opacity="0"/>
 <stop offset="0.03" stop-color="#fff" stop-opacity="0.16"/>
 <stop offset="0.06" stop-color="#fff" stop-opacity="0.38"/>
 <stop offset="0.1" stop-color="#fff" stop-opacity="0.62"/>
 <stop offset="0.135" stop-color="#fff" stop-opacity="0.8"/>
 <stop offset="0.175" stop-color="#fff" stop-opacity="1"/>
 <stop offset="0.825" stop-color="#fff" stop-opacity="1"/>
 <stop offset="0.865" stop-color="#fff" stop-opacity="0.8"/>
 <stop offset="0.9" stop-color="#fff" stop-opacity="0.62"/>
 <stop offset="0.94" stop-color="#fff" stop-opacity="0.38"/>
 <stop offset="0.97" stop-color="#fff" stop-opacity="0.16"/>
 <stop offset="1" stop-color="#fff" stop-opacity="0"/>
</linearGradient>
<radialGradient id="h2glow" gradientUnits="userSpaceOnUse" cx="1229" cy="1146.5" r="1" gradientTransform="translate(1229,1146.5) scale(235,33) translate(-1229,-1146.5)">
 <stop offset="0" stop-color="#ffffff" stop-opacity="0.36"/>
 <stop offset="0.3" stop-color="#ffffff" stop-opacity="0.24"/>
 <stop offset="0.65" stop-color="#ffffff" stop-opacity="0.09"/>
 <stop offset="1" stop-color="#ffffff" stop-opacity="0"/>
</radialGradient>
<radialGradient id="h2glowT" gradientUnits="userSpaceOnUse" cx="1229" cy="1146.5" r="1" gradientTransform="translate(1229,1146.5) scale(235,10) translate(-1229,-1146.5)">
 <stop offset="0" stop-color="#ffffff" stop-opacity="0.36"/>
 <stop offset="0.3" stop-color="#ffffff" stop-opacity="0.24"/>
 <stop offset="0.65" stop-color="#ffffff" stop-opacity="0.09"/>
 <stop offset="1" stop-color="#ffffff" stop-opacity="0"/>
</radialGradient>
<filter id="blur2" x="-5%" y="-200%" width="110%" height="500%"><feGaussianBlur stdDeviation="1.6"/></filter>
<filter id="blur1" x="-5%" y="-200%" width="110%" height="500%"><feGaussianBlur stdDeviation="0.8"/></filter>
<clipPath id="clipH1"><rect x="142.8" y="907.5" width="661" height="327"/></clipPath>
<clipPath id="clipH2"><rect x="899" y="907.5" width="661" height="327"/></clipPath>
</defs>
<rect x="142.8" y="907.5" width="661" height="327" fill="#0c0cff"/>
<g clip-path="url(#clipH1)">
<g filter="url(#boost)"><g mask="url(#m1)"><rect x="142" y="1136.5" width="663" height="44.5" fill="url(#h1band)"/></g></g>
<g filter="url(#blur2)"><rect x="235" y="1028.6" width="476" height="9.4" fill="url(#p1w)"/><ellipse cx="474" cy="1033.4" rx="150" ry="7.6" fill="#fff"/></g>
<g filter="url(#blur1)"><ellipse cx="474" cy="1033.4" rx="98" ry="3.6" fill="url(#p1r)"/></g>
<path d="M143,1036.5 H804" stroke="#000" stroke-width="3" stroke-dasharray="7.6 4.85" fill="none"/>
<path d="M231.9,1030.1 H711" stroke="#000" stroke-width="3" stroke-dasharray="7.6 4.85" fill="none"/>
<path d="M233.4,1030.1 V1036.5 M713.2,1030.1 V1036.5" stroke="#000" stroke-width="3" fill="none"/>
<path d="M143,1146.4 H804" stroke="#000" stroke-width="3" stroke-dasharray="7.6 4.85" fill="none"/>
<path d="M143,1179.3 H804" stroke="#000" stroke-width="3" stroke-dasharray="7.6 4.85" fill="none"/>
</g>
<rect x="142.8" y="907.5" width="661" height="327" fill="none" stroke="#000" stroke-width="3.2"/>
<rect x="899" y="907.5" width="661" height="327" fill="#0c0cff"/>
<g clip-path="url(#clipH2)">
<rect x="960" y="1146.5" width="540" height="40" fill="url(#h2glow)"/>
<rect x="960" y="1130" width="540" height="16.5" fill="url(#h2glowT)"/>
<g filter="url(#blur2)"><rect x="992" y="1028.4" width="475" height="10.2" fill="url(#p2w)"/><ellipse cx="1229" cy="1033.4" rx="175" ry="7.4" fill="#fff"/></g>
<g filter="url(#blur1)"><rect x="992" y="1030.2" width="475" height="6.6" fill="url(#p2h)"/></g>
<path d="M899.1,1036.8 H1560" stroke="#000" stroke-width="4" stroke-dasharray="11.3 8.2" fill="none"/>
<path d="M988.9,1030 H1469.4" stroke="#000" stroke-width="4" stroke-dasharray="11.3 8.2" fill="none"/>
<path d="M990.4,1030 V1036.8 M1468,1030 V1036.8" stroke="#000" stroke-width="3" fill="none" stroke-linecap="square"/>
<path d="M899.1,1146.5 H1560" stroke="#000" stroke-width="4" stroke-dasharray="11.3 8.2" fill="none"/>
<path d="M899.1,1179.4 H1560" stroke="#000" stroke-width="4" stroke-dasharray="11.3 8.2" fill="none"/>
</g>
<rect x="899" y="907.5" width="661" height="327" fill="none" stroke="#000" stroke-width="3.2"/>
<text x="481.5" y="871.5" font-size="47.6" text-anchor="middle" font-family="Liberation Serif, serif" font-weight="bold" >@5.02 μm</text>
<text x="1219.2" y="871.5" font-size="47.6" text-anchor="middle" font-family="Liberation Serif, serif" font-weight="bold" >@6.76 μm</text>
<text x="1.8" y="881.0" font-size="41.5" text-anchor="start" font-family="Liberation Sans, sans-serif" font-weight="bold" >(b)</text>
<text x="1.5" y="1086" font-size="57.5" font-family="Liberation Serif, serif" font-weight="bold">P<tspan font-size="37" dy="17.6" dx="2">abs</tspan></text>
<rect x="460" y="1290.8" width="770.3" height="27.2" fill="url(#cbar)" stroke="#000" stroke-width="2.5"/>
<text x="345.3" y="1318.2" font-size="46.6" text-anchor="start" font-family="Liberation Serif, serif" font-weight="bold" >Min.</text>
<text x="1253.0" y="1318.2" font-size="46.6" text-anchor="start" font-family="Liberation Serif, serif" font-weight="bold" >Max.</text>
<text x="844.8" y="1384.5" font-size="46.3" text-anchor="middle" font-family="Liberation Serif, serif" font-weight="bold" >Intensity(a.u.)</text>
</svg>
</body></html>
